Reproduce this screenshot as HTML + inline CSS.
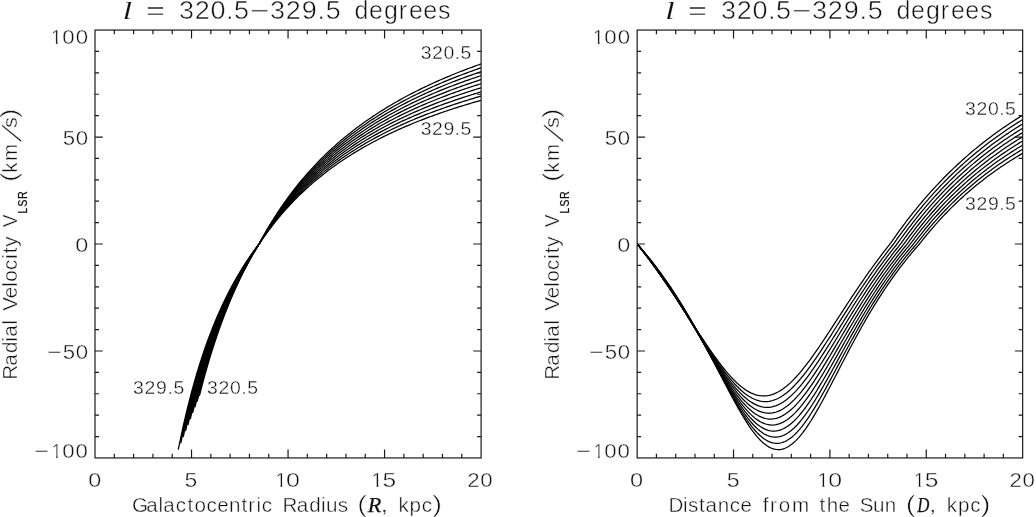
<!DOCTYPE html>
<html><head><meta charset="utf-8"><title>Radial velocity curves</title>
<style>
html,body{margin:0;padding:0;background:#fff;}
svg{display:block;}
text{font-family:"Liberation Sans","DejaVu Sans",sans-serif;fill:#111;stroke:#fff;stroke-width:0.42px;}
text.tt{stroke-width:0.5px;}
text.sm{stroke-width:0.36px;}
text.sub{stroke:#111;stroke-width:0.25px;}
text.sl{stroke-width:0.5px;}
text.par{stroke-width:0.6px;}
text.it{font-family:"Liberation Serif","DejaVu Serif",serif;font-style:italic;stroke:#111;stroke-width:0.25px;}
text.il{stroke:#fff;stroke-width:0.08px;}
.c{fill:none;stroke:#000;stroke-width:1.25;stroke-linejoin:round;}
</style></head><body>
<svg width="1036" height="517" viewBox="0 0 1036 517">
<rect width="1036" height="517" fill="#fff"/>
<clipPath id="k1" clipPathUnits="objectBoundingBox"><polygon points="0.15,0 0.62,0 0.62,1 0.4535,1 0.4535,0.69 0.15,0.69"/></clipPath>
<clipPath id="c0"><rect x="95.0" y="30.05" width="386.1" height="427.9"/></clipPath>
<clipPath id="c1"><rect x="637.15" y="30.05" width="385.5" height="427.9"/></clipPath>
<g class="c" clip-path="url(#c0)">
<path d="M199.38 395.94 L200.37 391.99 L201.37 388.12 L202.36 384.33 L203.36 380.60 L204.35 376.94 L205.35 373.34 L206.34 369.81 L207.34 366.35 L208.33 362.94 L209.33 359.59 L210.32 356.30 L211.32 353.07 L212.31 349.89 L213.31 346.77 L214.30 343.69 L215.30 340.67 L216.30 337.70 L217.29 334.78 L218.29 331.90 L219.28 329.07 L220.28 326.28 L221.27 323.54 L222.27 320.84 L223.26 318.19 L224.26 315.57 L225.25 312.99 L226.25 310.46 L227.24 307.96 L228.24 305.50 L229.23 303.07 L230.23 300.68 L231.22 298.33 L232.22 296.01 L233.22 293.72 L234.21 291.47 L235.21 289.24 L236.20 287.05 L237.20 284.89 L238.19 282.76 L239.19 280.66 L240.18 278.59 L241.18 276.55 L242.17 274.53 L243.17 272.54 L244.16 270.58 L245.16 268.64 L246.15 266.73 L247.15 264.85 L248.14 262.98 L249.14 261.15 L250.13 259.33 L251.13 257.54 L252.13 255.78 L253.12 254.03 L254.12 252.31 L255.11 250.60 L256.11 248.92 L257.10 247.26 L258.10 245.62 L259.09 244.00 L260.96 240.53 L262.82 237.13 L264.69 233.81 L266.55 230.56 L268.42 227.38 L270.29 224.26 L272.15 221.21 L274.02 218.22 L275.88 215.29 L277.75 212.42 L279.61 209.61 L281.48 206.85 L283.35 204.15 L285.21 201.49 L287.08 198.89 L288.94 196.34 L290.81 193.83 L292.67 191.38 L294.54 188.96 L296.40 186.59 L298.27 184.26 L300.14 181.98 L302.00 179.73 L303.87 177.53 L305.73 175.36 L307.60 173.23 L309.46 171.14 L311.33 169.08 L313.20 167.05 L315.06 165.06 L316.93 163.10 L318.79 161.18 L320.66 159.28 L322.52 157.42 L324.39 155.59 L326.25 153.78 L328.12 152.00 L329.99 150.26 L331.85 148.53 L333.72 146.84 L335.58 145.17 L337.45 143.52 L339.31 141.90 L341.18 140.31 L343.04 138.73 L344.91 137.18 L346.78 135.66 L348.64 134.15 L350.51 132.67 L352.37 131.21 L354.24 129.77 L356.10 128.34 L357.97 126.94 L359.84 125.56 L361.70 124.20 L363.57 122.85 L365.43 121.52 L367.30 120.22 L369.16 118.92 L371.03 117.65 L372.89 116.39 L374.76 115.15 L376.63 113.93 L378.49 112.72 L380.36 111.52 L382.22 110.35 L384.09 109.18 L385.95 108.03 L387.82 106.90 L389.69 105.78 L391.55 104.67 L393.42 103.58 L395.28 102.50 L397.15 101.43 L399.01 100.38 L400.88 99.34 L402.74 98.31 L404.61 97.29 L406.48 96.29 L408.34 95.30 L410.21 94.31 L412.07 93.34 L413.94 92.39 L415.80 91.44 L417.67 90.50 L419.53 89.57 L421.40 88.66 L423.27 87.75 L425.13 86.85 L427.00 85.97 L428.86 85.09 L430.73 84.23 L432.59 83.37 L434.46 82.52 L436.33 81.68 L438.19 80.85 L440.06 80.03 L441.92 79.22 L443.79 78.41 L445.65 77.62 L447.52 76.83 L449.38 76.05 L451.25 75.28 L453.12 74.51 L454.98 73.76 L456.85 73.01 L458.71 72.27 L460.58 71.54 L462.44 70.81 L464.31 70.09 L466.18 69.38 L468.04 68.67 L469.91 67.98 L471.77 67.29 L473.64 66.60 L475.50 65.92 L477.37 65.25 L479.23 64.59 L481.10 63.93"/>
<path d="M197.15 401.60 L198.18 397.42 L199.21 393.33 L200.25 389.31 L201.28 385.38 L202.31 381.52 L203.34 377.73 L204.38 374.02 L205.41 370.37 L206.44 366.79 L207.47 363.28 L208.51 359.83 L209.54 356.44 L210.57 353.12 L211.60 349.85 L212.64 346.64 L213.67 343.49 L214.70 340.39 L215.73 337.34 L216.77 334.35 L217.80 331.40 L218.83 328.51 L219.86 325.66 L220.89 322.86 L221.93 320.10 L222.96 317.39 L223.99 314.72 L225.02 312.10 L226.06 309.51 L227.09 306.97 L228.12 304.47 L229.15 302.00 L230.19 299.57 L231.22 297.18 L232.25 294.83 L233.28 292.51 L234.32 290.22 L235.35 287.97 L236.38 285.75 L237.41 283.57 L238.44 281.41 L239.48 279.29 L240.51 277.19 L241.54 275.13 L242.57 273.09 L243.61 271.08 L244.64 269.10 L245.67 267.15 L246.70 265.22 L247.74 263.32 L248.77 261.45 L249.80 259.60 L250.83 257.77 L251.87 255.97 L252.90 254.20 L253.93 252.44 L254.96 250.71 L256.00 249.00 L257.03 247.31 L258.06 245.65 L259.09 244.00 L260.96 240.60 L262.82 237.28 L264.69 234.03 L266.55 230.85 L268.42 227.73 L270.29 224.68 L272.15 221.70 L274.02 218.77 L275.88 215.90 L277.75 213.10 L279.61 210.34 L281.48 207.64 L283.35 205.00 L285.21 202.40 L287.08 199.85 L288.94 197.36 L290.81 194.90 L292.67 192.50 L294.54 190.14 L296.40 187.82 L298.27 185.54 L300.14 183.30 L302.00 181.10 L303.87 178.94 L305.73 176.82 L307.60 174.74 L309.46 172.69 L311.33 170.67 L313.20 168.69 L315.06 166.75 L316.93 164.83 L318.79 162.94 L320.66 161.09 L322.52 159.27 L324.39 157.47 L326.25 155.71 L328.12 153.97 L329.99 152.25 L331.85 150.57 L333.72 148.91 L335.58 147.27 L337.45 145.67 L339.31 144.08 L341.18 142.52 L343.04 140.98 L344.91 139.46 L346.78 137.97 L348.64 136.49 L350.51 135.04 L352.37 133.61 L354.24 132.20 L356.10 130.81 L357.97 129.44 L359.84 128.09 L361.70 126.75 L363.57 125.43 L365.43 124.14 L367.30 122.86 L369.16 121.59 L371.03 120.34 L372.89 119.11 L374.76 117.90 L376.63 116.70 L378.49 115.52 L380.36 114.35 L382.22 113.20 L384.09 112.06 L385.95 110.93 L387.82 109.82 L389.69 108.73 L391.55 107.64 L393.42 106.57 L395.28 105.52 L397.15 104.47 L399.01 103.44 L400.88 102.42 L402.74 101.42 L404.61 100.42 L406.48 99.44 L408.34 98.47 L410.21 97.51 L412.07 96.56 L413.94 95.62 L415.80 94.69 L417.67 93.77 L419.53 92.87 L421.40 91.97 L423.27 91.08 L425.13 90.21 L427.00 89.34 L428.86 88.48 L430.73 87.63 L432.59 86.79 L434.46 85.96 L436.33 85.14 L438.19 84.33 L440.06 83.53 L441.92 82.73 L443.79 81.94 L445.65 81.16 L447.52 80.39 L449.38 79.63 L451.25 78.88 L453.12 78.13 L454.98 77.39 L456.85 76.66 L458.71 75.93 L460.58 75.21 L462.44 74.50 L464.31 73.80 L466.18 73.10 L468.04 72.41 L469.91 71.73 L471.77 71.05 L473.64 70.38 L475.50 69.72 L477.37 69.06 L479.23 68.41 L481.10 67.77"/>
<path d="M194.89 407.34 L195.96 402.92 L197.03 398.59 L198.10 394.34 L199.17 390.19 L200.24 386.12 L201.31 382.13 L202.38 378.22 L203.45 374.39 L204.52 370.63 L205.59 366.95 L206.66 363.34 L207.73 359.79 L208.80 356.31 L209.87 352.90 L210.94 349.55 L212.01 346.26 L213.08 343.03 L214.15 339.86 L215.22 336.74 L216.29 333.68 L217.36 330.68 L218.43 327.72 L219.50 324.82 L220.57 321.96 L221.64 319.16 L222.71 316.40 L223.78 313.69 L224.85 311.02 L225.92 308.39 L226.99 305.81 L228.06 303.27 L229.13 300.77 L230.20 298.31 L231.27 295.89 L232.34 293.50 L233.41 291.15 L234.48 288.84 L235.55 286.57 L236.62 284.32 L237.69 282.12 L238.76 279.94 L239.83 277.80 L240.90 275.69 L241.97 273.61 L243.04 271.55 L244.11 269.53 L245.18 267.54 L246.25 265.58 L247.32 263.64 L248.39 261.73 L249.46 259.85 L250.53 257.99 L251.60 256.16 L252.67 254.35 L253.74 252.57 L254.81 250.81 L255.88 249.07 L256.95 247.36 L258.02 245.67 L259.09 244.00 L260.96 240.68 L262.82 237.43 L264.69 234.25 L266.55 231.14 L268.42 228.09 L270.29 225.11 L272.15 222.19 L274.02 219.33 L275.88 216.53 L277.75 213.78 L279.61 211.09 L281.48 208.45 L283.35 205.86 L285.21 203.32 L287.08 200.83 L288.94 198.39 L290.81 195.99 L292.67 193.64 L294.54 191.33 L296.40 189.06 L298.27 186.83 L300.14 184.64 L302.00 182.49 L303.87 180.38 L305.73 178.31 L307.60 176.27 L309.46 174.26 L311.33 172.29 L313.20 170.36 L315.06 168.45 L316.93 166.58 L318.79 164.74 L320.66 162.92 L322.52 161.14 L324.39 159.38 L326.25 157.66 L328.12 155.96 L329.99 154.28 L331.85 152.63 L333.72 151.01 L335.58 149.41 L337.45 147.84 L339.31 146.29 L341.18 144.76 L343.04 143.25 L344.91 141.77 L346.78 140.31 L348.64 138.87 L350.51 137.45 L352.37 136.05 L354.24 134.67 L356.10 133.31 L357.97 131.97 L359.84 130.65 L361.70 129.34 L363.57 128.05 L365.43 126.78 L367.30 125.53 L369.16 124.30 L371.03 123.08 L372.89 121.87 L374.76 120.69 L376.63 119.51 L378.49 118.36 L380.36 117.21 L382.22 116.09 L384.09 114.97 L385.95 113.87 L387.82 112.79 L389.69 111.72 L391.55 110.66 L393.42 109.61 L395.28 108.58 L397.15 107.56 L399.01 106.55 L400.88 105.55 L402.74 104.57 L404.61 103.59 L406.48 102.63 L408.34 101.68 L410.21 100.74 L412.07 99.81 L413.94 98.90 L415.80 97.99 L417.67 97.09 L419.53 96.21 L421.40 95.33 L423.27 94.46 L425.13 93.60 L427.00 92.76 L428.86 91.92 L430.73 91.09 L432.59 90.27 L434.46 89.45 L436.33 88.65 L438.19 87.86 L440.06 87.07 L441.92 86.29 L443.79 85.52 L445.65 84.76 L447.52 84.01 L449.38 83.26 L451.25 82.52 L453.12 81.79 L454.98 81.07 L456.85 80.35 L458.71 79.64 L460.58 78.94 L462.44 78.25 L464.31 77.56 L466.18 76.88 L468.04 76.20 L469.91 75.54 L471.77 74.87 L473.64 74.22 L475.50 73.57 L477.37 72.93 L479.23 72.29 L481.10 71.66"/>
<path d="M192.61 413.16 L193.71 408.48 L194.82 403.89 L195.93 399.41 L197.04 395.03 L198.15 390.74 L199.25 386.54 L200.36 382.43 L201.47 378.40 L202.58 374.46 L203.69 370.60 L204.80 366.81 L205.90 363.10 L207.01 359.47 L208.12 355.90 L209.23 352.41 L210.34 348.98 L211.44 345.62 L212.55 342.32 L213.66 339.08 L214.77 335.91 L215.88 332.79 L216.98 329.73 L218.09 326.72 L219.20 323.76 L220.31 320.86 L221.42 318.01 L222.52 315.21 L223.63 312.46 L224.74 309.75 L225.85 307.09 L226.96 304.48 L228.07 301.91 L229.17 299.38 L230.28 296.89 L231.39 294.44 L232.50 292.03 L233.61 289.66 L234.71 287.33 L235.82 285.04 L236.93 282.78 L238.04 280.55 L239.15 278.36 L240.25 276.21 L241.36 274.08 L242.47 271.99 L243.58 269.93 L244.69 267.90 L245.80 265.90 L246.90 263.93 L248.01 261.98 L249.12 260.07 L250.23 258.18 L251.34 256.32 L252.44 254.49 L253.55 252.68 L254.66 250.89 L255.77 249.14 L256.88 247.40 L257.98 245.69 L259.09 244.00 L260.96 240.75 L262.82 237.58 L264.69 234.47 L266.55 231.43 L268.42 228.46 L270.29 225.54 L272.15 222.69 L274.02 219.89 L275.88 217.15 L277.75 214.47 L279.61 211.84 L281.48 209.26 L283.35 206.73 L285.21 204.25 L287.08 201.82 L288.94 199.43 L290.81 197.09 L292.67 194.79 L294.54 192.53 L296.40 190.32 L298.27 188.14 L300.14 186.00 L302.00 183.90 L303.87 181.84 L305.73 179.81 L307.60 177.82 L309.46 175.86 L311.33 173.94 L313.20 172.04 L315.06 170.18 L316.93 168.35 L318.79 166.55 L320.66 164.78 L322.52 163.04 L324.39 161.32 L326.25 159.63 L328.12 157.97 L329.99 156.34 L331.85 154.72 L333.72 153.14 L335.58 151.58 L337.45 150.04 L339.31 148.52 L341.18 147.03 L343.04 145.56 L344.91 144.11 L346.78 142.68 L348.64 141.28 L350.51 139.89 L352.37 138.52 L354.24 137.17 L356.10 135.84 L357.97 134.53 L359.84 133.24 L361.70 131.97 L363.57 130.71 L365.43 129.47 L367.30 128.24 L369.16 127.04 L371.03 125.85 L372.89 124.67 L374.76 123.51 L376.63 122.36 L378.49 121.23 L380.36 120.12 L382.22 119.02 L384.09 117.93 L385.95 116.85 L387.82 115.79 L389.69 114.74 L391.55 113.71 L393.42 112.69 L395.28 111.68 L397.15 110.68 L399.01 109.69 L400.88 108.72 L402.74 107.76 L404.61 106.81 L406.48 105.87 L408.34 104.94 L410.21 104.02 L412.07 103.12 L413.94 102.22 L415.80 101.33 L417.67 100.46 L419.53 99.59 L421.40 98.73 L423.27 97.89 L425.13 97.05 L427.00 96.22 L428.86 95.40 L430.73 94.59 L432.59 93.79 L434.46 92.99 L436.33 92.21 L438.19 91.43 L440.06 90.66 L441.92 89.90 L443.79 89.15 L445.65 88.41 L447.52 87.67 L449.38 86.94 L451.25 86.22 L453.12 85.51 L454.98 84.80 L456.85 84.10 L458.71 83.41 L460.58 82.72 L462.44 82.04 L464.31 81.37 L466.18 80.71 L468.04 80.05 L469.91 79.39 L471.77 78.75 L473.64 78.11 L475.50 77.47 L477.37 76.85 L479.23 76.22 L481.10 75.61"/>
<path d="M190.29 419.06 L191.44 414.09 L192.58 409.24 L193.73 404.51 L194.88 399.88 L196.02 395.36 L197.17 390.94 L198.32 386.62 L199.46 382.39 L200.61 378.26 L201.76 374.21 L202.90 370.25 L204.05 366.37 L205.20 362.58 L206.34 358.86 L207.49 355.22 L208.64 351.65 L209.78 348.15 L210.93 344.72 L212.08 341.36 L213.22 338.07 L214.37 334.83 L215.52 331.66 L216.66 328.55 L217.81 325.50 L218.96 322.50 L220.10 319.56 L221.25 316.67 L222.40 313.83 L223.54 311.05 L224.69 308.31 L225.84 305.62 L226.98 302.98 L228.13 300.38 L229.28 297.83 L230.42 295.32 L231.57 292.86 L232.72 290.43 L233.86 288.05 L235.01 285.70 L236.16 283.39 L237.30 281.12 L238.45 278.89 L239.60 276.69 L240.74 274.52 L241.89 272.39 L243.04 270.29 L244.19 268.23 L245.33 266.19 L246.48 264.19 L247.63 262.22 L248.77 260.27 L249.92 258.36 L251.07 256.47 L252.21 254.61 L253.36 252.78 L254.51 250.97 L255.65 249.19 L256.80 247.44 L257.95 245.71 L259.09 244.00 L260.96 240.83 L262.82 237.73 L264.69 234.70 L266.55 231.73 L268.42 228.83 L270.29 225.98 L272.15 223.19 L274.02 220.47 L275.88 217.79 L277.75 215.17 L279.61 212.60 L281.48 210.09 L283.35 207.62 L285.21 205.19 L287.08 202.82 L288.94 200.49 L290.81 198.20 L292.67 195.96 L294.54 193.75 L296.40 191.59 L298.27 189.46 L300.14 187.38 L302.00 185.33 L303.87 183.31 L305.73 181.34 L307.60 179.39 L309.46 177.48 L311.33 175.60 L313.20 173.75 L315.06 171.93 L316.93 170.15 L318.79 168.39 L320.66 166.66 L322.52 164.96 L324.39 163.28 L326.25 161.64 L328.12 160.01 L329.99 158.42 L331.85 156.84 L333.72 155.30 L335.58 153.77 L337.45 152.27 L339.31 150.79 L341.18 149.33 L343.04 147.90 L344.91 146.48 L346.78 145.09 L348.64 143.72 L350.51 142.36 L352.37 141.03 L354.24 139.71 L356.10 138.41 L357.97 137.13 L359.84 135.87 L361.70 134.63 L363.57 133.40 L365.43 132.19 L367.30 130.99 L369.16 129.81 L371.03 128.65 L372.89 127.50 L374.76 126.37 L376.63 125.25 L378.49 124.15 L380.36 123.06 L382.22 121.98 L384.09 120.92 L385.95 119.87 L387.82 118.84 L389.69 117.81 L391.55 116.80 L393.42 115.80 L395.28 114.82 L397.15 113.85 L399.01 112.88 L400.88 111.93 L402.74 110.99 L404.61 110.07 L406.48 109.15 L408.34 108.24 L410.21 107.35 L412.07 106.46 L413.94 105.58 L415.80 104.72 L417.67 103.86 L419.53 103.02 L421.40 102.18 L423.27 101.35 L425.13 100.54 L427.00 99.73 L428.86 98.93 L430.73 98.13 L432.59 97.35 L434.46 96.58 L436.33 95.81 L438.19 95.05 L440.06 94.30 L441.92 93.56 L443.79 92.83 L445.65 92.10 L447.52 91.38 L449.38 90.67 L451.25 89.97 L453.12 89.27 L454.98 88.58 L456.85 87.90 L458.71 87.22 L460.58 86.55 L462.44 85.89 L464.31 85.23 L466.18 84.58 L468.04 83.94 L469.91 83.30 L471.77 82.67 L473.64 82.05 L475.50 81.43 L477.37 80.81 L479.23 80.21 L481.10 79.61"/>
<path d="M187.94 425.03 L189.13 419.77 L190.31 414.64 L191.50 409.64 L192.69 404.75 L193.87 399.99 L195.06 395.34 L196.24 390.80 L197.43 386.36 L198.62 382.02 L199.80 377.79 L200.99 373.64 L202.17 369.59 L203.36 365.63 L204.54 361.75 L205.73 357.96 L206.92 354.25 L208.10 350.61 L209.29 347.05 L210.47 343.57 L211.66 340.15 L212.85 336.80 L214.03 333.52 L215.22 330.31 L216.40 327.15 L217.59 324.06 L218.77 321.03 L219.96 318.05 L221.15 315.13 L222.33 312.27 L223.52 309.46 L224.70 306.70 L225.89 303.99 L227.08 301.33 L228.26 298.71 L229.45 296.14 L230.63 293.62 L231.82 291.14 L233.00 288.70 L234.19 286.31 L235.38 283.95 L236.56 281.64 L237.75 279.36 L238.93 277.12 L240.12 274.92 L241.31 272.75 L242.49 270.62 L243.68 268.52 L244.86 266.45 L246.05 264.42 L247.23 262.42 L248.42 260.45 L249.61 258.51 L250.79 256.60 L251.98 254.72 L253.16 252.86 L254.35 251.04 L255.54 249.24 L256.72 247.47 L257.91 245.72 L259.09 244.00 L260.96 240.91 L262.82 237.89 L264.69 234.93 L266.55 232.03 L268.42 229.20 L270.29 226.42 L272.15 223.71 L274.02 221.05 L275.88 218.44 L277.75 215.88 L279.61 213.38 L281.48 210.92 L283.35 208.51 L285.21 206.15 L287.08 203.83 L288.94 201.56 L290.81 199.33 L292.67 197.14 L294.54 194.99 L296.40 192.88 L298.27 190.81 L300.14 188.77 L302.00 186.77 L303.87 184.81 L305.73 182.88 L307.60 180.98 L309.46 179.12 L311.33 177.28 L313.20 175.48 L315.06 173.71 L316.93 171.97 L318.79 170.25 L320.66 168.56 L322.52 166.90 L324.39 165.27 L326.25 163.66 L328.12 162.08 L329.99 160.52 L331.85 158.99 L333.72 157.48 L335.58 155.99 L337.45 154.53 L339.31 153.09 L341.18 151.66 L343.04 150.26 L344.91 148.88 L346.78 147.52 L348.64 146.18 L350.51 144.86 L352.37 143.56 L354.24 142.28 L356.10 141.01 L357.97 139.76 L359.84 138.53 L361.70 137.32 L363.57 136.12 L365.43 134.94 L367.30 133.77 L369.16 132.62 L371.03 131.49 L372.89 130.37 L374.76 129.27 L376.63 128.17 L378.49 127.10 L380.36 126.04 L382.22 124.99 L384.09 123.95 L385.95 122.93 L387.82 121.92 L389.69 120.92 L391.55 119.93 L393.42 118.96 L395.28 118.00 L397.15 117.05 L399.01 116.11 L400.88 115.18 L402.74 114.27 L404.61 113.36 L406.48 112.47 L408.34 111.58 L410.21 110.71 L412.07 109.85 L413.94 108.99 L415.80 108.15 L417.67 107.31 L419.53 106.49 L421.40 105.67 L423.27 104.87 L425.13 104.07 L427.00 103.28 L428.86 102.50 L430.73 101.73 L432.59 100.96 L434.46 100.21 L436.33 99.46 L438.19 98.72 L440.06 97.99 L441.92 97.27 L443.79 96.55 L445.65 95.84 L447.52 95.14 L449.38 94.45 L451.25 93.76 L453.12 93.08 L454.98 92.41 L456.85 91.74 L458.71 91.08 L460.58 90.43 L462.44 89.78 L464.31 89.14 L466.18 88.51 L468.04 87.88 L469.91 87.26 L471.77 86.64 L473.64 86.03 L475.50 85.43 L477.37 84.83 L479.23 84.24 L481.10 83.65"/>
<path d="M185.57 431.07 L186.79 425.49 L188.02 420.07 L189.24 414.78 L190.47 409.63 L191.70 404.61 L192.92 399.72 L194.15 394.95 L195.37 390.29 L196.60 385.75 L197.82 381.31 L199.05 376.98 L200.27 372.75 L201.50 368.62 L202.72 364.58 L203.95 360.63 L205.18 356.77 L206.40 352.99 L207.63 349.30 L208.85 345.69 L210.08 342.15 L211.30 338.69 L212.53 335.30 L213.75 331.98 L214.98 328.73 L216.20 325.54 L217.43 322.42 L218.65 319.36 L219.88 316.36 L221.11 313.41 L222.33 310.53 L223.56 307.70 L224.78 304.92 L226.01 302.20 L227.23 299.52 L228.46 296.90 L229.68 294.32 L230.91 291.79 L232.13 289.30 L233.36 286.86 L234.58 284.46 L235.81 282.10 L237.04 279.78 L238.26 277.51 L239.49 275.27 L240.71 273.07 L241.94 270.90 L243.16 268.78 L244.39 266.68 L245.61 264.62 L246.84 262.60 L248.06 260.60 L249.29 258.64 L250.51 256.71 L251.74 254.81 L252.97 252.94 L254.19 251.10 L255.42 249.28 L256.64 247.49 L257.87 245.73 L259.09 244.00 L260.96 240.99 L262.82 238.04 L264.69 235.16 L266.55 232.34 L268.42 229.58 L270.29 226.87 L272.15 224.23 L274.02 221.63 L275.88 219.09 L277.75 216.60 L279.61 214.16 L281.48 211.77 L283.35 209.42 L285.21 207.12 L287.08 204.86 L288.94 202.64 L290.81 200.47 L292.67 198.34 L294.54 196.24 L296.40 194.19 L298.27 192.17 L300.14 190.18 L302.00 188.23 L303.87 186.32 L305.73 184.44 L307.60 182.59 L309.46 180.77 L311.33 178.99 L313.20 177.23 L315.06 175.50 L316.93 173.81 L318.79 172.13 L320.66 170.49 L322.52 168.87 L324.39 167.28 L326.25 165.72 L328.12 164.17 L329.99 162.66 L331.85 161.16 L333.72 159.69 L335.58 158.24 L337.45 156.81 L339.31 155.41 L341.18 154.02 L343.04 152.66 L344.91 151.31 L346.78 149.99 L348.64 148.68 L350.51 147.40 L352.37 146.13 L354.24 144.88 L356.10 143.64 L357.97 142.43 L359.84 141.23 L361.70 140.04 L363.57 138.88 L365.43 137.73 L367.30 136.59 L369.16 135.47 L371.03 134.36 L372.89 133.27 L374.76 132.20 L376.63 131.13 L378.49 130.08 L380.36 129.05 L382.22 128.03 L384.09 127.02 L385.95 126.02 L387.82 125.04 L389.69 124.06 L391.55 123.10 L393.42 122.15 L395.28 121.22 L397.15 120.29 L399.01 119.38 L400.88 118.47 L402.74 117.58 L404.61 116.70 L406.48 115.83 L408.34 114.97 L410.21 114.12 L412.07 113.27 L413.94 112.44 L415.80 111.62 L417.67 110.81 L419.53 110.00 L421.40 109.21 L423.27 108.42 L425.13 107.64 L427.00 106.87 L428.86 106.11 L430.73 105.36 L432.59 104.62 L434.46 103.88 L436.33 103.15 L438.19 102.43 L440.06 101.72 L441.92 101.01 L443.79 100.32 L445.65 99.63 L447.52 98.94 L449.38 98.27 L451.25 97.60 L453.12 96.93 L454.98 96.28 L456.85 95.63 L458.71 94.99 L460.58 94.35 L462.44 93.72 L464.31 93.10 L466.18 92.48 L468.04 91.87 L469.91 91.26 L471.77 90.66 L473.64 90.07 L475.50 89.48 L477.37 88.90 L479.23 88.32 L481.10 87.75"/>
<path d="M183.17 437.18 L184.43 431.27 L185.70 425.53 L186.96 419.94 L188.23 414.51 L189.49 409.22 L190.76 404.08 L192.02 399.06 L193.29 394.18 L194.56 389.42 L195.82 384.78 L197.09 380.25 L198.35 375.84 L199.62 371.53 L200.88 367.32 L202.15 363.22 L203.41 359.21 L204.68 355.29 L205.94 351.46 L207.21 347.72 L208.48 344.06 L209.74 340.48 L211.01 336.99 L212.27 333.56 L213.54 330.21 L214.80 326.93 L216.07 323.72 L217.33 320.57 L218.60 317.49 L219.86 314.48 L221.13 311.52 L222.40 308.62 L223.66 305.78 L224.93 302.99 L226.19 300.26 L227.46 297.58 L228.72 294.95 L229.99 292.37 L231.25 289.83 L232.52 287.35 L233.78 284.91 L235.05 282.51 L236.31 280.16 L237.58 277.85 L238.85 275.57 L240.11 273.34 L241.38 271.15 L242.64 268.99 L243.91 266.88 L245.17 264.79 L246.44 262.74 L247.70 260.73 L248.97 258.75 L250.23 256.80 L251.50 254.88 L252.77 253.00 L254.03 251.14 L255.30 249.31 L256.56 247.51 L257.83 245.74 L259.09 244.00 L260.96 241.07 L262.82 238.20 L264.69 235.39 L266.55 232.65 L268.42 229.96 L270.29 227.33 L272.15 224.75 L274.02 222.22 L275.88 219.75 L277.75 217.33 L279.61 214.95 L281.48 212.62 L283.35 210.34 L285.21 208.09 L287.08 205.90 L288.94 203.74 L290.81 201.62 L292.67 199.55 L294.54 197.51 L296.40 195.51 L298.27 193.54 L300.14 191.61 L302.00 189.71 L303.87 187.85 L305.73 186.02 L307.60 184.22 L309.46 182.45 L311.33 180.71 L313.20 179.00 L315.06 177.32 L316.93 175.67 L318.79 174.04 L320.66 172.44 L322.52 170.87 L324.39 169.32 L326.25 167.79 L328.12 166.29 L329.99 164.81 L331.85 163.36 L333.72 161.93 L335.58 160.52 L337.45 159.13 L339.31 157.76 L341.18 156.41 L343.04 155.08 L344.91 153.77 L346.78 152.48 L348.64 151.21 L350.51 149.96 L352.37 148.72 L354.24 147.50 L356.10 146.30 L357.97 145.12 L359.84 143.95 L361.70 142.80 L363.57 141.66 L365.43 140.54 L367.30 139.44 L369.16 138.35 L371.03 137.27 L372.89 136.21 L374.76 135.16 L376.63 134.13 L378.49 133.11 L380.36 132.10 L382.22 131.10 L384.09 130.12 L385.95 129.15 L387.82 128.19 L389.69 127.24 L391.55 126.31 L393.42 125.39 L395.28 124.47 L397.15 123.57 L399.01 122.68 L400.88 121.80 L402.74 120.93 L404.61 120.08 L406.48 119.23 L408.34 118.39 L410.21 117.56 L412.07 116.74 L413.94 115.93 L415.80 115.13 L417.67 114.34 L419.53 113.55 L421.40 112.78 L423.27 112.02 L425.13 111.26 L427.00 110.51 L428.86 109.77 L430.73 109.04 L432.59 108.31 L434.46 107.60 L436.33 106.89 L438.19 106.19 L440.06 105.49 L441.92 104.81 L443.79 104.13 L445.65 103.45 L447.52 102.79 L449.38 102.13 L451.25 101.48 L453.12 100.83 L454.98 100.20 L456.85 99.56 L458.71 98.94 L460.58 98.32 L462.44 97.71 L464.31 97.10 L466.18 96.50 L468.04 95.90 L469.91 95.31 L471.77 94.73 L473.64 94.15 L475.50 93.58 L477.37 93.01 L479.23 92.45 L481.10 91.89"/>
<path d="M180.74 443.36 L182.04 437.09 L183.35 431.02 L184.66 425.11 L185.96 419.38 L187.27 413.81 L188.57 408.40 L189.88 403.13 L191.19 398.01 L192.49 393.03 L193.80 388.17 L195.10 383.45 L196.41 378.84 L197.71 374.35 L199.02 369.98 L200.33 365.71 L201.63 361.55 L202.94 357.49 L204.24 353.52 L205.55 349.65 L206.86 345.87 L208.16 342.18 L209.47 338.57 L210.77 335.04 L212.08 331.59 L213.39 328.22 L214.69 324.92 L216.00 321.70 L217.30 318.54 L218.61 315.44 L219.92 312.42 L221.22 309.45 L222.53 306.55 L223.83 303.70 L225.14 300.91 L226.44 298.18 L227.75 295.50 L229.06 292.88 L230.36 290.30 L231.67 287.77 L232.97 285.29 L234.28 282.86 L235.59 280.47 L236.89 278.13 L238.20 275.83 L239.50 273.57 L240.81 271.35 L242.12 269.17 L243.42 267.03 L244.73 264.93 L246.03 262.86 L247.34 260.83 L248.65 258.83 L249.95 256.87 L251.26 254.94 L252.56 253.04 L253.87 251.17 L255.17 249.34 L256.48 247.53 L257.79 245.75 L259.09 244.00 L260.96 241.15 L262.82 238.36 L264.69 235.63 L266.55 232.96 L268.42 230.35 L270.29 227.79 L272.15 225.28 L274.02 222.82 L275.88 220.42 L277.75 218.06 L279.61 215.75 L281.48 213.48 L283.35 211.26 L285.21 209.08 L287.08 206.95 L288.94 204.85 L290.81 202.79 L292.67 200.77 L294.54 198.79 L296.40 196.84 L298.27 194.93 L300.14 193.05 L302.00 191.21 L303.87 189.40 L305.73 187.62 L307.60 185.87 L309.46 184.15 L311.33 182.46 L313.20 180.79 L315.06 179.16 L316.93 177.55 L318.79 175.97 L320.66 174.41 L322.52 172.88 L324.39 171.37 L326.25 169.89 L328.12 168.43 L329.99 166.99 L331.85 165.58 L333.72 164.19 L335.58 162.82 L337.45 161.46 L339.31 160.13 L341.18 158.82 L343.04 157.53 L344.91 156.26 L346.78 155.00 L348.64 153.77 L350.51 152.55 L352.37 151.35 L354.24 150.16 L356.10 149.00 L357.97 147.84 L359.84 146.71 L361.70 145.59 L363.57 144.48 L365.43 143.39 L367.30 142.32 L369.16 141.26 L371.03 140.21 L372.89 139.18 L374.76 138.16 L376.63 137.15 L378.49 136.16 L380.36 135.18 L382.22 134.21 L384.09 133.26 L385.95 132.31 L387.82 131.38 L389.69 130.46 L391.55 129.55 L393.42 128.65 L395.28 127.77 L397.15 126.89 L399.01 126.03 L400.88 125.17 L402.74 124.32 L404.61 123.49 L406.48 122.66 L408.34 121.85 L410.21 121.04 L412.07 120.25 L413.94 119.46 L415.80 118.68 L417.67 117.91 L419.53 117.15 L421.40 116.40 L423.27 115.65 L425.13 114.92 L427.00 114.19 L428.86 113.47 L430.73 112.76 L432.59 112.05 L434.46 111.35 L436.33 110.66 L438.19 109.98 L440.06 109.31 L441.92 108.64 L443.79 107.98 L445.65 107.33 L447.52 106.68 L449.38 106.04 L451.25 105.40 L453.12 104.78 L454.98 104.16 L456.85 103.54 L458.71 102.93 L460.58 102.33 L462.44 101.74 L464.31 101.14 L466.18 100.56 L468.04 99.98 L469.91 99.41 L471.77 98.84 L473.64 98.28 L475.50 97.72 L477.37 97.17 L479.23 96.62 L481.10 96.08"/>
<path d="M178.28 449.60 L179.63 442.96 L180.98 436.52 L182.32 430.29 L183.67 424.24 L185.02 418.37 L186.36 412.68 L187.71 407.15 L189.06 401.78 L190.40 396.56 L191.75 391.49 L193.10 386.55 L194.45 381.75 L195.79 377.08 L197.14 372.53 L198.49 368.10 L199.83 363.78 L201.18 359.58 L202.53 355.47 L203.87 351.47 L205.22 347.57 L206.57 343.76 L207.91 340.05 L209.26 336.42 L210.61 332.87 L211.95 329.41 L213.30 326.02 L214.65 322.71 L215.99 319.48 L217.34 316.31 L218.69 313.22 L220.03 310.19 L221.38 307.23 L222.73 304.33 L224.08 301.49 L225.42 298.70 L226.77 295.98 L228.12 293.31 L229.46 290.69 L230.81 288.13 L232.16 285.62 L233.50 283.15 L234.85 280.73 L236.20 278.36 L237.54 276.03 L238.89 273.75 L240.24 271.51 L241.58 269.31 L242.93 267.15 L244.28 265.03 L245.62 262.95 L246.97 260.90 L248.32 258.89 L249.66 256.92 L251.01 254.98 L252.36 253.07 L253.71 251.19 L255.05 249.35 L256.40 247.54 L257.75 245.75 L259.09 244.00 L260.96 241.23 L262.82 238.52 L264.69 235.87 L266.55 233.28 L268.42 230.74 L270.29 228.25 L272.15 225.82 L274.02 223.43 L275.88 221.09 L277.75 218.80 L279.61 216.56 L281.48 214.36 L283.35 212.20 L285.21 210.08 L287.08 208.01 L288.94 205.97 L290.81 203.97 L292.67 202.01 L294.54 200.08 L296.40 198.19 L298.27 196.34 L300.14 194.51 L302.00 192.72 L303.87 190.96 L305.73 189.23 L307.60 187.53 L309.46 185.86 L311.33 184.22 L313.20 182.60 L315.06 181.01 L316.93 179.45 L318.79 177.92 L320.66 176.40 L322.52 174.92 L324.39 173.45 L326.25 172.01 L328.12 170.60 L329.99 169.20 L331.85 167.83 L333.72 166.47 L335.58 165.14 L337.45 163.83 L339.31 162.53 L341.18 161.26 L343.04 160.01 L344.91 158.77 L346.78 157.55 L348.64 156.35 L350.51 155.17 L352.37 154.00 L354.24 152.85 L356.10 151.72 L357.97 150.60 L359.84 149.49 L361.70 148.41 L363.57 147.33 L365.43 146.27 L367.30 145.23 L369.16 144.20 L371.03 143.18 L372.89 142.18 L374.76 141.19 L376.63 140.21 L378.49 139.25 L380.36 138.30 L382.22 137.36 L384.09 136.43 L385.95 135.51 L387.82 134.61 L389.69 133.71 L391.55 132.83 L393.42 131.96 L395.28 131.09 L397.15 130.24 L399.01 129.40 L400.88 128.57 L402.74 127.75 L404.61 126.94 L406.48 126.14 L408.34 125.35 L410.21 124.56 L412.07 123.79 L413.94 123.02 L415.80 122.27 L417.67 121.52 L419.53 120.78 L421.40 120.05 L423.27 119.33 L425.13 118.61 L427.00 117.90 L428.86 117.20 L430.73 116.51 L432.59 115.83 L434.46 115.15 L436.33 114.48 L438.19 113.82 L440.06 113.16 L441.92 112.52 L443.79 111.87 L445.65 111.24 L447.52 110.61 L449.38 109.99 L451.25 109.37 L453.12 108.76 L454.98 108.16 L456.85 107.56 L458.71 106.97 L460.58 106.39 L462.44 105.81 L464.31 105.23 L466.18 104.67 L468.04 104.10 L469.91 103.55 L471.77 103.00 L473.64 102.45 L475.50 101.91 L477.37 101.37 L479.23 100.84 L481.10 100.32"/>
</g>
<g fill="#000" stroke="none" clip-path="url(#c0)">
<path d="M199.38 395.94 L200.87 390.05 L202.36 384.33 L203.85 378.76 L205.35 373.34 L206.84 368.07 L208.33 362.94 L209.83 357.94 L211.32 353.07 L212.81 348.32 L214.30 343.69 L215.80 339.18 L217.29 334.78 L218.78 330.48 L220.28 326.28 L221.77 322.19 L223.26 318.19 L224.76 314.28 L226.25 310.46 L227.74 306.72 L229.23 303.07 L230.73 299.50 L232.22 296.01 L233.71 292.59 L235.21 289.24 L236.70 285.97 L238.19 282.76 L239.68 279.62 L241.18 276.55 L242.67 273.53 L244.16 270.58 L245.66 267.68 L247.15 264.85 L248.64 262.06 L250.13 259.33 L251.63 256.66 L253.12 254.03 L254.61 251.45 L256.11 248.92 L257.60 246.44 L259.09 244.00 L260.82 240.78 L262.55 237.62 L264.28 234.53 L266.01 231.50 L267.74 228.53 L269.47 225.62 L271.20 222.76 L272.93 219.96 L274.66 217.21 L276.39 214.51 L278.12 211.86 L279.85 209.26 L281.58 206.71 L283.31 204.20 L285.04 201.74 L286.77 199.32 L288.50 196.95 L290.23 194.61 L291.96 192.32 L293.68 190.06 L295.41 187.84 L297.14 185.66 L298.87 183.52 L300.60 181.41 L300.60 182.75 L298.87 184.81 L297.14 186.91 L295.41 189.04 L293.68 191.21 L291.96 193.42 L290.23 195.66 L288.50 197.95 L286.77 200.27 L285.04 202.64 L283.31 205.05 L281.58 207.50 L279.85 210.00 L278.12 212.55 L276.39 215.14 L274.66 217.78 L272.93 220.47 L271.20 223.21 L269.47 226.01 L267.74 228.86 L266.01 231.77 L264.28 234.73 L262.55 237.76 L260.82 240.85 L259.09 244.00 L257.60 246.39 L256.11 248.82 L254.61 251.29 L253.12 253.82 L251.63 256.39 L250.13 259.01 L248.64 261.68 L247.15 264.40 L245.66 267.18 L244.16 270.01 L242.67 272.90 L241.18 275.85 L239.68 278.86 L238.19 281.94 L236.70 285.07 L235.21 288.28 L233.71 291.55 L232.22 294.90 L230.73 298.32 L229.23 301.81 L227.74 305.38 L226.25 309.04 L224.76 312.78 L223.26 316.60 L221.77 320.52 L220.28 324.53 L218.78 328.63 L217.29 332.84 L215.80 337.15 L214.30 341.57 L212.81 346.10 L211.32 350.74 L209.83 355.51 L208.33 360.40 L206.84 365.43 L205.35 370.59 L203.85 375.89 L202.36 381.33 L200.87 386.94 L199.38 392.70Z"/>
<path d="M197.15 401.60 L198.70 395.37 L200.25 389.31 L201.80 383.44 L203.34 377.73 L204.89 372.18 L206.44 366.79 L207.99 361.55 L209.54 356.44 L211.09 351.48 L212.64 346.64 L214.18 341.93 L215.73 337.34 L217.28 332.87 L218.83 328.51 L220.38 324.25 L221.93 320.10 L223.48 316.05 L225.02 312.10 L226.57 308.24 L228.12 304.47 L229.67 300.78 L231.22 297.18 L232.77 293.66 L234.32 290.22 L235.86 286.86 L237.41 283.57 L238.96 280.34 L240.51 277.19 L242.06 274.11 L243.61 271.08 L245.16 268.12 L246.70 265.22 L248.25 262.38 L249.80 259.60 L251.35 256.87 L252.90 254.20 L254.45 251.57 L256.00 249.00 L257.54 246.48 L259.09 244.00 L260.79 240.90 L262.49 237.87 L264.19 234.89 L265.89 231.98 L267.59 229.12 L269.28 226.31 L270.98 223.56 L272.68 220.86 L274.38 218.21 L276.08 215.61 L277.78 213.05 L279.48 210.54 L281.18 208.08 L282.87 205.66 L284.57 203.28 L286.27 200.95 L287.97 198.65 L289.67 196.39 L291.37 194.18 L293.07 192.00 L294.77 189.85 L296.46 187.74 L298.16 185.67 L299.86 183.63 L299.86 184.96 L298.16 186.96 L296.46 188.99 L294.77 191.05 L293.07 193.14 L291.37 195.28 L289.67 197.45 L287.97 199.65 L286.27 201.90 L284.57 204.18 L282.87 206.51 L281.18 208.87 L279.48 211.28 L277.78 213.74 L276.08 216.23 L274.38 218.78 L272.68 221.37 L270.98 224.01 L269.28 226.70 L267.59 229.45 L265.89 232.24 L264.19 235.10 L262.49 238.01 L260.79 240.97 L259.09 244.00 L257.54 246.42 L256.00 248.89 L254.45 251.41 L252.90 253.97 L251.35 256.59 L249.80 259.25 L248.25 261.98 L246.70 264.76 L245.16 267.59 L243.61 270.48 L242.06 273.44 L240.51 276.46 L238.96 279.54 L237.41 282.69 L235.86 285.91 L234.32 289.20 L232.77 292.57 L231.22 296.01 L229.67 299.53 L228.12 303.13 L226.57 306.82 L225.02 310.59 L223.48 314.46 L221.93 318.42 L220.38 322.48 L218.83 326.64 L217.28 330.90 L215.73 335.28 L214.18 339.77 L212.64 344.37 L211.09 349.10 L209.54 353.96 L207.99 358.95 L206.44 364.08 L204.89 369.35 L203.34 374.78 L201.80 380.36 L200.25 386.10 L198.70 392.02 L197.15 398.12Z"/>
<path d="M194.89 407.34 L196.50 400.74 L198.10 394.34 L199.71 388.14 L201.31 382.13 L202.92 376.30 L204.52 370.63 L206.13 365.13 L207.73 359.79 L209.34 354.60 L210.94 349.55 L212.55 344.64 L214.15 339.86 L215.76 335.21 L217.36 330.68 L218.97 326.26 L220.57 321.96 L222.18 317.77 L223.78 313.69 L225.39 309.70 L226.99 305.81 L228.60 302.01 L230.20 298.31 L231.81 294.69 L233.41 291.15 L235.02 287.70 L236.62 284.32 L238.23 281.02 L239.83 277.80 L241.44 274.64 L243.04 271.55 L244.65 268.53 L246.25 265.58 L247.86 262.68 L249.46 259.85 L251.07 257.07 L252.67 254.35 L254.28 251.68 L255.88 249.07 L257.49 246.51 L259.09 244.00 L260.74 241.05 L262.40 238.17 L264.05 235.33 L265.70 232.55 L267.35 229.82 L269.01 227.15 L270.66 224.52 L272.31 221.94 L273.96 219.41 L275.62 216.92 L277.27 214.48 L278.92 212.08 L280.57 209.72 L282.23 207.41 L283.88 205.13 L285.53 202.89 L287.18 200.69 L288.84 198.52 L290.49 196.40 L292.14 194.30 L293.79 192.24 L295.45 190.22 L297.10 188.23 L298.75 186.26 L298.75 187.59 L297.10 189.50 L295.45 191.45 L293.79 193.43 L292.14 195.44 L290.49 197.49 L288.84 199.57 L287.18 201.68 L285.53 203.83 L283.88 206.02 L282.23 208.24 L280.57 210.51 L278.92 212.81 L277.27 215.16 L275.62 217.54 L273.96 219.97 L272.31 222.45 L270.66 224.97 L269.01 227.53 L267.35 230.15 L265.70 232.81 L264.05 235.53 L262.40 238.30 L260.74 241.12 L259.09 244.00 L257.49 246.45 L255.88 248.95 L254.28 251.51 L252.67 254.11 L251.07 256.77 L249.46 259.48 L247.86 262.25 L246.25 265.08 L244.65 267.97 L243.04 270.92 L241.44 273.94 L239.83 277.02 L238.23 280.18 L236.62 283.40 L235.02 286.70 L233.41 290.07 L231.81 293.53 L230.20 297.06 L228.60 300.69 L226.99 304.39 L225.39 308.19 L223.78 312.09 L222.18 316.08 L220.57 320.18 L218.97 324.38 L217.36 328.69 L215.76 333.12 L214.15 337.66 L212.55 342.33 L210.94 347.13 L209.34 352.07 L207.73 357.14 L206.13 362.36 L204.52 367.73 L202.92 373.27 L201.31 378.97 L199.71 384.84 L198.10 390.90 L196.50 397.15 L194.89 403.60Z"/>
<path d="M192.61 413.16 L194.27 406.17 L195.93 399.41 L197.59 392.87 L199.25 386.54 L200.92 380.40 L202.58 374.46 L204.24 368.69 L205.90 363.10 L207.57 357.68 L209.23 352.41 L210.89 347.29 L212.55 342.32 L214.21 337.49 L215.88 332.79 L217.54 328.21 L219.20 323.76 L220.86 319.43 L222.52 315.21 L224.19 311.10 L225.85 307.09 L227.51 303.19 L229.17 299.38 L230.84 295.66 L232.50 292.03 L234.16 288.49 L235.82 285.04 L237.48 281.66 L239.15 278.36 L240.81 275.14 L242.47 271.99 L244.13 268.91 L245.80 265.90 L247.46 262.95 L249.12 260.07 L250.78 257.25 L252.44 254.49 L254.11 251.78 L255.77 249.14 L257.43 246.54 L259.09 244.00 L260.70 241.20 L262.30 238.46 L263.91 235.76 L265.52 233.12 L267.12 230.52 L268.73 227.97 L270.33 225.47 L271.94 223.01 L273.55 220.59 L275.15 218.22 L276.76 215.89 L278.37 213.60 L279.97 211.34 L281.58 209.13 L283.18 206.95 L284.79 204.81 L286.40 202.70 L288.00 200.63 L289.61 198.59 L291.21 196.58 L292.82 194.61 L294.43 192.67 L296.03 190.75 L297.64 188.87 L297.64 190.18 L296.03 192.02 L294.43 193.89 L292.82 195.78 L291.21 197.71 L289.61 199.67 L288.00 201.66 L286.40 203.68 L284.79 205.74 L283.18 207.83 L281.58 209.95 L279.97 212.12 L278.37 214.32 L276.76 216.55 L275.15 218.83 L273.55 221.15 L271.94 223.51 L270.33 225.91 L268.73 228.35 L267.12 230.84 L265.52 233.37 L263.91 235.96 L262.30 238.59 L260.70 241.27 L259.09 244.00 L257.43 246.48 L255.77 249.01 L254.11 251.60 L252.44 254.24 L250.78 256.93 L249.12 259.69 L247.46 262.50 L245.80 265.38 L244.13 268.32 L242.47 271.33 L240.81 274.40 L239.15 277.55 L237.48 280.77 L235.82 284.06 L234.16 287.44 L232.50 290.89 L230.84 294.43 L229.17 298.06 L227.51 301.78 L225.85 305.59 L224.19 309.51 L222.52 313.52 L220.86 317.64 L219.20 321.87 L217.54 326.22 L215.88 330.68 L214.21 335.27 L212.55 339.99 L210.89 344.84 L209.23 349.84 L207.57 354.98 L205.90 360.28 L204.24 365.73 L202.58 371.36 L200.92 377.16 L199.25 383.15 L197.59 389.34 L195.93 395.72 L194.27 402.32 L192.61 409.15Z"/>
<path d="M190.29 419.06 L192.01 411.65 L193.73 404.51 L195.45 397.61 L197.17 390.94 L198.89 384.49 L200.61 378.26 L202.33 372.22 L204.05 366.37 L205.77 360.71 L207.49 355.22 L209.21 349.89 L210.93 344.72 L212.65 339.70 L214.37 334.83 L216.09 330.10 L217.81 325.50 L219.53 321.02 L221.25 316.67 L222.97 312.43 L224.69 308.31 L226.41 304.30 L228.13 300.38 L229.85 296.57 L231.57 292.86 L233.29 289.23 L235.01 285.70 L236.73 282.25 L238.45 278.89 L240.17 275.60 L241.89 272.39 L243.61 269.26 L245.33 266.19 L247.05 263.20 L248.77 260.27 L250.49 257.41 L252.21 254.61 L253.93 251.87 L255.65 249.19 L257.37 246.57 L259.09 244.00 L260.67 241.32 L262.24 238.69 L263.82 236.11 L265.39 233.57 L266.97 231.08 L268.54 228.64 L270.12 226.23 L271.69 223.87 L273.27 221.55 L274.84 219.27 L276.42 217.03 L277.99 214.83 L279.57 212.66 L281.14 210.53 L282.72 208.44 L284.30 206.38 L285.87 204.35 L287.45 202.35 L289.02 200.39 L290.60 198.46 L292.17 196.56 L293.75 194.68 L295.32 192.84 L296.90 191.03 L296.90 192.33 L295.32 194.10 L293.75 195.90 L292.17 197.72 L290.60 199.58 L289.02 201.46 L287.45 203.38 L285.87 205.33 L284.30 207.30 L282.72 209.31 L281.14 211.36 L279.57 213.44 L277.99 215.55 L276.42 217.70 L274.84 219.88 L273.27 222.11 L271.69 224.37 L270.12 226.67 L268.54 229.01 L266.97 231.40 L265.39 233.83 L263.82 236.30 L262.24 238.82 L260.67 241.39 L259.09 244.00 L257.37 246.51 L255.65 249.06 L253.93 251.68 L252.21 254.35 L250.49 257.08 L248.77 259.87 L247.05 262.73 L245.33 265.65 L243.61 268.63 L241.89 271.69 L240.17 274.82 L238.45 278.03 L236.73 281.31 L235.01 284.67 L233.29 288.12 L231.57 291.65 L229.85 295.28 L228.13 299.00 L226.41 302.81 L224.69 306.73 L222.97 310.75 L221.25 314.88 L219.53 319.13 L217.81 323.49 L216.09 327.98 L214.37 332.60 L212.65 337.35 L210.93 342.24 L209.21 347.28 L207.49 352.48 L205.77 357.84 L204.05 363.36 L202.33 369.06 L200.61 374.95 L198.89 381.04 L197.17 387.32 L195.45 393.83 L193.73 400.56 L192.01 407.53 L190.29 414.75Z"/>
<path d="M187.94 425.03 L189.72 417.19 L191.50 409.64 L193.28 402.36 L195.06 395.34 L196.84 388.56 L198.62 382.02 L200.39 375.70 L202.17 369.59 L203.95 363.68 L205.73 357.96 L207.51 352.42 L209.29 347.05 L211.07 341.85 L212.85 336.80 L214.62 331.91 L216.40 327.15 L218.18 322.54 L219.96 318.05 L221.74 313.70 L223.52 309.46 L225.30 305.34 L227.08 301.33 L228.85 297.42 L230.63 293.62 L232.41 289.92 L234.19 286.31 L235.97 282.79 L237.75 279.36 L239.53 276.01 L241.31 272.75 L243.08 269.56 L244.86 266.45 L246.64 263.42 L248.42 260.45 L250.20 257.55 L251.98 254.72 L253.76 251.95 L255.54 249.24 L257.31 246.59 L259.09 244.00 L260.62 241.46 L262.15 238.97 L263.68 236.52 L265.21 234.12 L266.74 231.75 L268.27 229.43 L269.79 227.15 L271.32 224.91 L272.85 222.70 L274.38 220.53 L275.91 218.40 L277.44 216.30 L278.97 214.24 L280.50 212.21 L282.03 210.21 L283.55 208.25 L285.08 206.31 L286.61 204.41 L288.14 202.53 L289.67 200.69 L291.20 198.87 L292.73 197.08 L294.26 195.31 L295.78 193.58 L295.78 194.86 L294.26 196.56 L292.73 198.28 L291.20 200.02 L289.67 201.79 L288.14 203.59 L286.61 205.42 L285.08 207.27 L283.55 209.16 L282.03 211.07 L280.50 213.02 L278.97 215.00 L277.44 217.01 L275.91 219.05 L274.38 221.13 L272.85 223.25 L271.32 225.39 L269.79 227.58 L268.27 229.80 L266.74 232.07 L265.21 234.37 L263.68 236.71 L262.15 239.10 L260.62 241.53 L259.09 244.00 L257.31 246.53 L255.54 249.11 L253.76 251.75 L251.98 254.44 L250.20 257.21 L248.42 260.03 L246.64 262.92 L244.86 265.88 L243.08 268.91 L241.31 272.02 L239.53 275.20 L237.75 278.46 L235.97 281.80 L234.19 285.23 L232.41 288.74 L230.63 292.35 L228.85 296.06 L227.08 299.86 L225.30 303.77 L223.52 307.79 L221.74 311.92 L219.96 316.16 L218.18 320.53 L216.40 325.03 L214.62 329.66 L212.85 334.43 L211.07 339.35 L209.29 344.42 L207.51 349.65 L205.73 355.05 L203.95 360.62 L202.17 366.38 L200.39 372.34 L198.62 378.50 L196.84 384.87 L195.06 391.47 L193.28 398.31 L191.50 405.40 L189.72 412.76 L187.94 420.40Z"/>
<path d="M185.57 431.07 L187.41 422.76 L189.24 414.78 L191.08 407.11 L192.92 399.72 L194.76 392.60 L196.60 385.75 L198.44 379.13 L200.27 372.75 L202.11 366.59 L203.95 360.63 L205.79 354.87 L207.63 349.30 L209.46 343.91 L211.30 338.69 L213.14 333.63 L214.98 328.73 L216.82 323.97 L218.65 319.36 L220.49 314.88 L222.33 310.53 L224.17 306.30 L226.01 302.20 L227.84 298.20 L229.68 294.32 L231.52 290.54 L233.36 286.86 L235.20 283.28 L237.04 279.78 L238.87 276.38 L240.71 273.07 L242.55 269.84 L244.39 266.68 L246.23 263.61 L248.06 260.60 L249.90 257.67 L251.74 254.81 L253.58 252.01 L255.42 249.28 L257.25 246.61 L259.09 244.00 L260.58 241.60 L262.06 239.24 L263.54 236.93 L265.02 234.65 L266.51 232.41 L267.99 230.21 L269.47 228.05 L270.95 225.92 L272.44 223.83 L273.92 221.77 L275.40 219.74 L276.88 217.75 L278.37 215.79 L279.85 213.86 L281.33 211.96 L282.81 210.08 L284.30 208.24 L285.78 206.43 L287.26 204.64 L288.74 202.88 L290.23 201.14 L291.71 199.44 L293.19 197.75 L294.67 196.09 L294.67 197.36 L293.19 198.98 L291.71 200.62 L290.23 202.28 L288.74 203.97 L287.26 205.68 L285.78 207.42 L284.30 209.19 L282.81 210.98 L281.33 212.81 L279.85 214.66 L278.37 216.54 L276.88 218.45 L275.40 220.39 L273.92 222.36 L272.44 224.36 L270.95 226.40 L269.47 228.47 L267.99 230.58 L266.51 232.72 L265.02 234.90 L263.54 237.12 L262.06 239.37 L260.58 241.66 L259.09 244.00 L257.25 246.54 L255.42 249.14 L253.58 251.80 L251.74 254.52 L249.90 257.31 L248.06 260.16 L246.23 263.09 L244.39 266.08 L242.55 269.15 L240.71 272.30 L238.87 275.52 L237.04 278.84 L235.20 282.23 L233.36 285.72 L231.52 289.30 L229.68 292.98 L227.84 296.77 L226.01 300.65 L224.17 304.65 L222.33 308.76 L220.49 313.00 L218.65 317.36 L216.82 321.85 L214.98 326.48 L213.14 331.25 L211.30 336.18 L209.46 341.26 L207.63 346.51 L205.79 351.93 L203.95 357.54 L202.11 363.34 L200.27 369.34 L198.44 375.55 L196.60 381.99 L194.76 388.66 L192.92 395.59 L191.08 402.78 L189.24 410.25 L187.41 418.02 L185.57 426.11Z"/>
<path d="M183.17 437.18 L185.06 428.38 L186.96 419.94 L188.86 411.85 L190.76 404.08 L192.66 396.60 L194.56 389.42 L196.45 382.50 L198.35 375.84 L200.25 369.41 L202.15 363.22 L204.05 357.24 L205.94 351.46 L207.84 345.88 L209.74 340.48 L211.64 335.26 L213.54 330.21 L215.44 325.32 L217.33 320.57 L219.23 315.98 L221.13 311.52 L223.03 307.19 L224.93 302.99 L226.82 298.91 L228.72 294.95 L230.62 291.09 L232.52 287.35 L234.42 283.70 L236.31 280.16 L238.21 276.70 L240.11 273.34 L242.01 270.07 L243.91 266.88 L245.81 263.76 L247.70 260.73 L249.60 257.77 L251.50 254.88 L253.40 252.06 L255.30 249.31 L257.19 246.63 L259.09 244.00 L260.54 241.71 L262.00 239.47 L263.45 237.26 L264.90 235.08 L266.35 232.95 L267.80 230.84 L269.25 228.78 L270.71 226.74 L272.16 224.74 L273.61 222.77 L275.06 220.84 L276.51 218.93 L277.96 217.05 L279.42 215.20 L280.87 213.38 L282.32 211.59 L283.77 209.82 L285.22 208.08 L286.67 206.37 L288.13 204.68 L289.58 203.02 L291.03 201.38 L292.48 199.76 L293.93 198.17 L293.93 199.43 L292.48 200.98 L291.03 202.55 L289.58 204.15 L288.13 205.76 L286.67 207.40 L285.22 209.07 L283.77 210.76 L282.32 212.48 L280.87 214.22 L279.42 215.99 L277.96 217.79 L276.51 219.62 L275.06 221.47 L273.61 223.36 L272.16 225.27 L270.71 227.22 L269.25 229.20 L267.80 231.21 L266.35 233.25 L264.90 235.33 L263.45 237.44 L262.00 239.59 L260.54 241.78 L259.09 244.00 L257.19 246.55 L255.30 249.17 L253.40 251.84 L251.50 254.58 L249.60 257.39 L247.70 260.27 L245.81 263.22 L243.91 266.25 L242.01 269.35 L240.11 272.53 L238.21 275.80 L236.31 279.16 L234.42 282.61 L232.52 286.15 L230.62 289.80 L228.72 293.54 L226.82 297.40 L224.93 301.37 L223.03 305.45 L221.13 309.66 L219.23 313.99 L217.33 318.46 L215.44 323.08 L213.54 327.84 L211.64 332.75 L209.74 337.83 L207.84 343.07 L205.94 348.50 L204.05 354.12 L202.15 359.93 L200.25 365.96 L198.35 372.20 L196.45 378.68 L194.56 385.41 L192.66 392.40 L190.76 399.67 L188.86 407.23 L186.96 415.10 L185.06 423.30 L183.17 431.86Z"/>
<path d="M180.74 443.36 L182.70 434.03 L184.66 425.11 L186.61 416.58 L188.57 408.40 L190.53 400.55 L192.49 393.03 L194.45 385.79 L196.41 378.84 L198.37 372.15 L200.33 365.71 L202.29 359.51 L204.24 353.52 L206.20 347.75 L208.16 342.18 L210.12 336.80 L212.08 331.59 L214.04 326.56 L216.00 321.70 L217.96 316.98 L219.92 312.42 L221.87 307.99 L223.83 303.70 L225.79 299.54 L227.75 295.50 L229.71 291.58 L231.67 287.77 L233.63 284.07 L235.59 280.47 L237.55 276.98 L239.50 273.57 L241.46 270.26 L243.42 267.03 L245.38 263.89 L247.34 260.83 L249.30 257.85 L251.26 254.94 L253.22 252.10 L255.17 249.34 L257.13 246.64 L259.09 244.00 L260.51 241.82 L261.93 239.68 L263.35 237.58 L264.78 235.51 L266.20 233.47 L267.62 231.47 L269.04 229.49 L270.46 227.55 L271.88 225.64 L273.30 223.76 L274.72 221.91 L276.14 220.09 L277.56 218.29 L278.98 216.53 L280.40 214.79 L281.82 213.07 L283.25 211.38 L284.67 209.72 L286.09 208.08 L287.51 206.46 L288.93 204.87 L290.35 203.29 L291.77 201.75 L293.19 200.22 L293.19 201.47 L291.77 202.96 L290.35 204.46 L288.93 205.99 L287.51 207.53 L286.09 209.10 L284.67 210.70 L283.25 212.32 L281.82 213.96 L280.40 215.62 L278.98 217.31 L277.56 219.03 L276.14 220.77 L274.72 222.54 L273.30 224.34 L271.88 226.17 L270.46 228.02 L269.04 229.91 L267.62 231.82 L266.20 233.77 L264.78 235.75 L263.35 237.76 L261.93 239.81 L260.51 241.89 L259.09 244.00 L257.13 246.56 L255.17 249.18 L253.22 251.87 L251.26 254.63 L249.30 257.45 L247.34 260.35 L245.38 263.32 L243.42 266.37 L241.46 269.51 L239.50 272.72 L237.55 276.03 L235.59 279.43 L233.63 282.92 L231.67 286.52 L229.71 290.22 L227.75 294.03 L225.79 297.95 L223.83 301.99 L221.87 306.16 L219.92 310.46 L217.96 314.89 L216.00 319.47 L214.04 324.20 L212.08 329.09 L210.12 334.14 L208.16 339.37 L206.20 344.78 L204.24 350.39 L202.29 356.20 L200.33 362.23 L198.37 368.48 L196.41 374.98 L194.45 381.73 L192.49 388.76 L190.53 396.07 L188.57 403.69 L186.61 411.64 L184.66 419.93 L182.70 428.59 L180.74 437.65Z"/>
</g>
<g class="c" clip-path="url(#c1)">
<path d="M637.15 244.00 L638.91 246.21 L640.67 248.45 L642.43 250.71 L644.19 253.00 L645.95 255.31 L647.71 257.64 L649.47 260.00 L651.23 262.38 L652.99 264.78 L654.75 267.21 L656.51 269.65 L658.27 272.12 L660.03 274.61 L661.79 277.13 L663.55 279.66 L665.31 282.21 L667.07 284.78 L668.83 287.37 L670.60 289.97 L672.36 292.60 L674.12 295.23 L675.88 297.88 L677.64 300.55 L679.40 303.22 L681.16 305.91 L682.92 308.61 L684.68 311.31 L686.44 314.02 L688.20 316.73 L689.96 319.44 L691.72 322.16 L693.48 324.87 L695.24 327.58 L697.00 330.28 L698.76 332.97 L700.52 335.65 L702.28 338.31 L704.04 340.96 L705.80 343.59 L707.56 346.19 L709.32 348.77 L711.08 351.31 L712.84 353.82 L714.60 356.30 L716.36 358.74 L718.12 361.13 L719.88 363.47 L721.64 365.77 L723.40 368.00 L725.16 370.18 L726.92 372.30 L728.68 374.34 L730.44 376.32 L732.20 378.22 L733.97 380.05 L735.73 381.79 L737.49 383.44 L739.25 385.01 L741.01 386.48 L742.77 387.86 L744.53 389.14 L746.29 390.31 L748.05 391.38 L749.81 392.34 L751.57 393.20 L753.33 393.94 L755.09 394.56 L756.85 395.07 L758.61 395.47 L760.37 395.74 L762.13 395.90 L763.89 395.94 L765.65 395.86 L767.41 395.66 L769.17 395.34 L770.93 394.90 L772.69 394.35 L774.45 393.68 L776.21 392.90 L777.97 392.01 L779.73 391.01 L781.49 389.90 L783.25 388.69 L785.01 387.37 L786.77 385.96 L788.53 384.45 L790.29 382.85 L792.05 381.17 L793.81 379.40 L795.57 377.54 L797.33 375.61 L799.10 373.61 L800.86 371.54 L802.62 369.40 L804.38 367.20 L806.14 364.94 L807.90 362.63 L809.66 360.27 L811.42 357.86 L813.18 355.41 L814.94 352.92 L816.70 350.39 L818.46 347.84 L820.22 345.25 L821.98 342.64 L823.74 340.00 L825.50 337.35 L827.26 334.68 L829.02 332.00 L830.78 329.30 L832.54 326.60 L834.30 323.89 L836.06 321.18 L837.82 318.46 L839.58 315.75 L841.34 313.04 L843.10 310.33 L844.86 307.63 L846.62 304.94 L848.38 302.25 L850.14 299.58 L851.90 296.92 L853.66 294.28 L855.42 291.64 L857.18 289.03 L858.94 286.43 L860.70 283.85 L862.47 281.28 L864.23 278.74 L865.99 276.21 L867.75 273.71 L869.51 271.23 L871.27 268.76 L873.03 266.32 L874.79 263.91 L876.55 261.51 L878.31 259.14 L880.07 256.79 L881.83 254.47 L883.59 252.17 L885.35 249.89 L887.11 247.64 L888.87 245.41 L890.63 243.08 L892.39 240.54 L894.15 238.03 L895.91 235.55 L897.67 233.10 L899.43 230.67 L901.19 228.27 L902.95 225.90 L904.71 223.55 L906.47 221.23 L908.23 218.94 L909.99 216.67 L911.75 214.43 L913.51 212.21 L915.27 210.03 L917.03 207.86 L918.79 205.72 L920.55 203.61 L922.31 201.52 L924.07 199.46 L925.83 197.42 L927.60 195.41 L929.36 193.41 L931.12 191.45 L932.88 189.50 L934.64 187.58 L936.40 185.68 L938.16 183.81 L939.92 181.95 L941.68 180.12 L943.44 178.31 L945.20 176.52 L946.96 174.76 L948.72 173.01 L950.48 171.28 L952.24 169.58 L954.00 167.89 L955.76 166.23 L957.52 164.58 L959.28 162.95 L961.04 161.35 L962.80 159.76 L964.56 158.19 L966.32 156.63 L968.08 155.10 L969.84 153.58 L971.60 152.08 L973.36 150.60 L975.12 149.14 L976.88 147.69 L978.64 146.26 L980.40 144.84 L982.16 143.44 L983.92 142.06 L985.68 140.69 L987.44 139.34 L989.20 138.00 L990.97 136.68 L992.73 135.37 L994.49 134.08 L996.25 132.80 L998.01 131.53 L999.77 130.28 L1001.53 129.05 L1003.29 127.82 L1005.05 126.61 L1006.81 125.41 L1008.57 124.23 L1010.33 123.06 L1012.09 121.90 L1013.85 120.75 L1015.61 119.62 L1017.37 118.50 L1019.13 117.39 L1020.89 116.29 L1022.65 115.20"/>
<path d="M637.15 244.00 L638.91 246.20 L640.67 248.42 L642.43 250.67 L644.19 252.94 L645.95 255.24 L647.71 257.56 L649.47 259.91 L651.23 262.29 L652.99 264.68 L654.75 267.11 L656.51 269.55 L658.27 272.02 L660.03 274.52 L661.79 277.03 L663.55 279.57 L665.31 282.13 L667.07 284.71 L668.83 287.32 L670.60 289.94 L672.36 292.58 L674.12 295.24 L675.88 297.92 L677.64 300.61 L679.40 303.32 L681.16 306.04 L682.92 308.77 L684.68 311.52 L686.44 314.27 L688.20 317.03 L689.96 319.80 L691.72 322.57 L693.48 325.35 L695.24 328.12 L697.00 330.89 L698.76 333.65 L700.52 336.41 L702.28 339.16 L704.04 341.89 L705.80 344.61 L707.56 347.31 L709.32 349.99 L711.08 352.64 L712.84 355.27 L714.60 357.86 L716.36 360.41 L718.12 362.93 L719.88 365.40 L721.64 367.82 L723.40 370.19 L725.16 372.51 L726.92 374.77 L728.68 376.96 L730.44 379.08 L732.20 381.14 L733.97 383.11 L735.73 385.01 L737.49 386.82 L739.25 388.54 L741.01 390.17 L742.77 391.71 L744.53 393.15 L746.29 394.48 L748.05 395.71 L749.81 396.82 L751.57 397.83 L753.33 398.72 L755.09 399.50 L756.85 400.15 L758.61 400.69 L760.37 401.10 L762.13 401.39 L763.89 401.56 L765.65 401.60 L767.41 401.52 L769.17 401.31 L770.93 400.98 L772.69 400.53 L774.45 399.96 L776.21 399.26 L777.97 398.45 L779.73 397.52 L781.49 396.48 L783.25 395.33 L785.01 394.07 L786.77 392.70 L788.53 391.23 L790.29 389.67 L792.05 388.01 L793.81 386.25 L795.57 384.42 L797.33 382.49 L799.10 380.49 L800.86 378.42 L802.62 376.27 L804.38 374.06 L806.14 371.78 L807.90 369.45 L809.66 367.06 L811.42 364.62 L813.18 362.13 L814.94 359.60 L816.70 357.04 L818.46 354.44 L820.22 351.80 L821.98 349.14 L823.74 346.46 L825.50 343.75 L827.26 341.03 L829.02 338.29 L830.78 335.54 L832.54 332.78 L834.30 330.01 L836.06 327.24 L837.82 324.46 L839.58 321.69 L841.34 318.92 L843.10 316.16 L844.86 313.40 L846.62 310.65 L848.38 307.90 L850.14 305.17 L851.90 302.46 L853.66 299.75 L855.42 297.06 L857.18 294.39 L858.94 291.74 L860.70 289.10 L862.47 286.49 L864.23 283.89 L865.99 281.32 L867.75 278.76 L869.51 276.23 L871.27 273.72 L873.03 271.24 L874.79 268.77 L876.55 266.33 L878.31 263.92 L880.07 261.53 L881.83 259.16 L883.59 256.82 L885.35 254.51 L887.11 252.22 L888.87 249.95 L890.63 247.71 L892.39 245.50 L894.15 243.19 L895.91 240.68 L897.67 238.19 L899.43 235.73 L901.19 233.30 L902.95 230.89 L904.71 228.52 L906.47 226.17 L908.23 223.85 L909.99 221.55 L911.75 219.28 L913.51 217.04 L915.27 214.83 L917.03 212.64 L918.79 210.48 L920.55 208.35 L922.31 206.24 L924.07 204.16 L925.83 202.10 L927.60 200.07 L929.36 198.06 L931.12 196.07 L932.88 194.11 L934.64 192.17 L936.40 190.26 L938.16 188.37 L939.92 186.50 L941.68 184.66 L943.44 182.84 L945.20 181.04 L946.96 179.26 L948.72 177.50 L950.48 175.77 L952.24 174.05 L954.00 172.36 L955.76 170.68 L957.52 169.03 L959.28 167.39 L961.04 165.78 L962.80 164.18 L964.56 162.61 L966.32 161.05 L968.08 159.51 L969.84 157.99 L971.60 156.48 L973.36 154.99 L975.12 153.53 L976.88 152.07 L978.64 150.64 L980.40 149.22 L982.16 147.82 L983.92 146.43 L985.68 145.06 L987.44 143.71 L989.20 142.37 L990.97 141.04 L992.73 139.74 L994.49 138.44 L996.25 137.16 L998.01 135.90 L999.77 134.65 L1001.53 133.41 L1003.29 132.19 L1005.05 130.98 L1006.81 129.78 L1008.57 128.60 L1010.33 127.43 L1012.09 126.27 L1013.85 125.12 L1015.61 123.99 L1017.37 122.87 L1019.13 121.76 L1020.89 120.66 L1022.65 119.58"/>
<path d="M637.15 244.00 L638.91 246.18 L640.67 248.39 L642.43 250.62 L644.19 252.88 L645.95 255.16 L647.71 257.47 L649.47 259.81 L651.23 262.17 L652.99 264.56 L654.75 266.98 L656.51 269.42 L658.27 271.88 L660.03 274.38 L661.79 276.89 L663.55 279.43 L665.31 282.00 L667.07 284.59 L668.83 287.20 L670.60 289.84 L672.36 292.49 L674.12 295.17 L675.88 297.87 L677.64 300.58 L679.40 303.32 L681.16 306.07 L682.92 308.84 L684.68 311.62 L686.44 314.42 L688.20 317.22 L689.96 320.04 L691.72 322.86 L693.48 325.69 L695.24 328.53 L697.00 331.36 L698.76 334.20 L700.52 337.03 L702.28 339.86 L704.04 342.68 L705.80 345.48 L707.56 348.28 L709.32 351.05 L711.08 353.81 L712.84 356.54 L714.60 359.24 L716.36 361.91 L718.12 364.55 L719.88 367.15 L721.64 369.70 L723.40 372.21 L725.16 374.66 L726.92 377.06 L728.68 379.40 L730.44 381.68 L732.20 383.88 L733.97 386.01 L735.73 388.07 L737.49 390.04 L739.25 391.92 L741.01 393.72 L742.77 395.42 L744.53 397.02 L746.29 398.51 L748.05 399.90 L749.81 401.18 L751.57 402.35 L753.33 403.40 L755.09 404.33 L756.85 405.14 L758.61 405.83 L760.37 406.39 L762.13 406.82 L763.89 407.12 L765.65 407.30 L767.41 407.34 L769.17 407.26 L770.93 407.04 L772.69 406.70 L774.45 406.22 L776.21 405.62 L777.97 404.90 L779.73 404.05 L781.49 403.08 L783.25 401.99 L785.01 400.79 L786.77 399.47 L788.53 398.05 L790.29 396.52 L792.05 394.89 L793.81 393.16 L795.57 391.34 L797.33 389.42 L799.10 387.42 L800.86 385.35 L802.62 383.19 L804.38 380.96 L806.14 378.67 L807.90 376.31 L809.66 373.89 L811.42 371.42 L813.18 368.90 L814.94 366.33 L816.70 363.72 L818.46 361.07 L820.22 358.39 L821.98 355.68 L823.74 352.94 L825.50 350.17 L827.26 347.39 L829.02 344.60 L830.78 341.78 L832.54 338.96 L834.30 336.13 L836.06 333.30 L837.82 330.46 L839.58 327.63 L841.34 324.80 L843.10 321.97 L844.86 319.15 L846.62 316.33 L848.38 313.53 L850.14 310.74 L851.90 307.96 L853.66 305.20 L855.42 302.45 L857.18 299.72 L858.94 297.01 L860.70 294.32 L862.47 291.65 L864.23 289.00 L865.99 286.37 L867.75 283.76 L869.51 281.18 L871.27 278.62 L873.03 276.09 L874.79 273.58 L876.55 271.10 L878.31 268.64 L880.07 266.21 L881.83 263.80 L883.59 261.42 L885.35 259.06 L887.11 256.73 L888.87 254.43 L890.63 252.16 L892.39 249.91 L894.15 247.68 L895.91 245.49 L897.67 243.20 L899.43 240.71 L901.19 238.24 L902.95 235.81 L904.71 233.40 L906.47 231.02 L908.23 228.67 L909.99 226.35 L911.75 224.06 L913.51 221.80 L915.27 219.56 L917.03 217.35 L918.79 215.17 L920.55 213.01 L922.31 210.88 L924.07 208.78 L925.83 206.70 L927.60 204.65 L929.36 202.62 L931.12 200.62 L932.88 198.65 L934.64 196.70 L936.40 194.77 L938.16 192.86 L939.92 190.99 L941.68 189.13 L943.44 187.29 L945.20 185.48 L946.96 183.69 L948.72 181.93 L950.48 180.18 L952.24 178.46 L954.00 176.76 L955.76 175.07 L957.52 173.41 L959.28 171.77 L961.04 170.15 L962.80 168.55 L964.56 166.97 L966.32 165.40 L968.08 163.86 L969.84 162.33 L971.60 160.83 L973.36 159.34 L975.12 157.86 L976.88 156.41 L978.64 154.97 L980.40 153.55 L982.16 152.15 L983.92 150.76 L985.68 149.39 L987.44 148.03 L989.20 146.69 L990.97 145.37 L992.73 144.06 L994.49 142.77 L996.25 141.49 L998.01 140.22 L999.77 138.97 L1001.53 137.74 L1003.29 136.51 L1005.05 135.31 L1006.81 134.11 L1008.57 132.93 L1010.33 131.76 L1012.09 130.60 L1013.85 129.46 L1015.61 128.33 L1017.37 127.21 L1019.13 126.11 L1020.89 125.01 L1022.65 123.93"/>
<path d="M637.15 244.00 L638.91 246.16 L640.67 248.34 L642.43 250.56 L644.19 252.80 L645.95 255.06 L647.71 257.36 L649.47 259.68 L651.23 262.03 L652.99 264.41 L654.75 266.81 L656.51 269.25 L658.27 271.71 L660.03 274.19 L661.79 276.71 L663.55 279.25 L665.31 281.81 L667.07 284.41 L668.83 287.02 L670.60 289.67 L672.36 292.33 L674.12 295.02 L675.88 297.74 L677.64 300.47 L679.40 303.23 L681.16 306.01 L682.92 308.81 L684.68 311.62 L686.44 314.45 L688.20 317.30 L689.96 320.16 L691.72 323.03 L693.48 325.91 L695.24 328.80 L697.00 331.70 L698.76 334.60 L700.52 337.50 L702.28 340.40 L704.04 343.30 L705.80 346.19 L707.56 349.08 L709.32 351.95 L711.08 354.80 L712.84 357.64 L714.60 360.45 L716.36 363.24 L718.12 365.99 L719.88 368.71 L721.64 371.40 L723.40 374.04 L725.16 376.63 L726.92 379.17 L728.68 381.66 L730.44 384.09 L732.20 386.45 L733.97 388.73 L735.73 390.95 L737.49 393.08 L739.25 395.14 L741.01 397.10 L742.77 398.96 L744.53 400.73 L746.29 402.40 L748.05 403.96 L749.81 405.41 L751.57 406.75 L753.33 407.96 L755.09 409.06 L756.85 410.03 L758.61 410.88 L760.37 411.59 L762.13 412.17 L763.89 412.62 L765.65 412.94 L767.41 413.12 L769.17 413.16 L770.93 413.07 L772.69 412.84 L774.45 412.47 L776.21 411.98 L777.97 411.35 L779.73 410.58 L781.49 409.69 L783.25 408.68 L785.01 407.54 L786.77 406.28 L788.53 404.90 L790.29 403.41 L792.05 401.81 L793.81 400.11 L795.57 398.30 L797.33 396.40 L799.10 394.40 L800.86 392.32 L802.62 390.16 L804.38 387.91 L806.14 385.60 L807.90 383.21 L809.66 380.77 L811.42 378.26 L813.18 375.70 L814.94 373.09 L816.70 370.43 L818.46 367.73 L820.22 365.00 L821.98 362.23 L823.74 359.43 L825.50 356.61 L827.26 353.77 L829.02 350.91 L830.78 348.03 L832.54 345.15 L834.30 342.25 L836.06 339.35 L837.82 336.45 L839.58 333.55 L841.34 330.65 L843.10 327.76 L844.86 324.87 L846.62 321.99 L848.38 319.12 L850.14 316.27 L851.90 313.42 L853.66 310.60 L855.42 307.79 L857.18 305.00 L858.94 302.23 L860.70 299.48 L862.47 296.75 L864.23 294.05 L865.99 291.36 L867.75 288.71 L869.51 286.07 L871.27 283.46 L873.03 280.88 L874.79 278.32 L876.55 275.79 L878.31 273.29 L880.07 270.81 L881.83 268.36 L883.59 265.94 L885.35 263.54 L887.11 261.18 L888.87 258.84 L890.63 256.52 L892.39 254.24 L894.15 251.98 L895.91 249.75 L897.67 247.55 L899.43 245.37 L901.19 243.10 L902.95 240.63 L904.71 238.20 L906.47 235.79 L908.23 233.41 L909.99 231.06 L911.75 228.75 L913.51 226.46 L915.27 224.20 L917.03 221.96 L918.79 219.76 L920.55 217.58 L922.31 215.43 L924.07 213.31 L925.83 211.22 L927.60 209.15 L929.36 207.11 L931.12 205.09 L932.88 203.10 L934.64 201.14 L936.40 199.20 L938.16 197.28 L939.92 195.39 L941.68 193.52 L943.44 191.68 L945.20 189.85 L946.96 188.06 L948.72 186.28 L950.48 184.53 L952.24 182.80 L954.00 181.09 L955.76 179.40 L957.52 177.73 L959.28 176.08 L961.04 174.46 L962.80 172.85 L964.56 171.27 L966.32 169.70 L968.08 168.15 L969.84 166.62 L971.60 165.11 L973.36 163.62 L975.12 162.15 L976.88 160.69 L978.64 159.25 L980.40 157.83 L982.16 156.42 L983.92 155.04 L985.68 153.66 L987.44 152.31 L989.20 150.97 L990.97 149.65 L992.73 148.34 L994.49 147.05 L996.25 145.77 L998.01 144.50 L999.77 143.26 L1001.53 142.02 L1003.29 140.80 L1005.05 139.59 L1006.81 138.40 L1008.57 137.22 L1010.33 136.06 L1012.09 134.90 L1013.85 133.76 L1015.61 132.64 L1017.37 131.52 L1019.13 130.42 L1020.89 129.33 L1022.65 128.25"/>
<path d="M637.15 244.00 L638.91 246.13 L640.67 248.30 L642.43 250.49 L644.19 252.71 L645.95 254.95 L647.71 257.23 L649.47 259.53 L651.23 261.87 L652.99 264.23 L654.75 266.62 L656.51 269.04 L658.27 271.49 L660.03 273.97 L661.79 276.47 L663.55 279.01 L665.31 281.57 L667.07 284.16 L668.83 286.78 L670.60 289.43 L672.36 292.10 L674.12 294.80 L675.88 297.53 L677.64 300.28 L679.40 303.05 L681.16 305.85 L682.92 308.67 L684.68 311.51 L686.44 314.37 L688.20 317.26 L689.96 320.15 L691.72 323.07 L693.48 326.00 L695.24 328.94 L697.00 331.89 L698.76 334.85 L700.52 337.82 L702.28 340.79 L704.04 343.77 L705.80 346.74 L707.56 349.71 L709.32 352.67 L711.08 355.62 L712.84 358.55 L714.60 361.47 L716.36 364.37 L718.12 367.24 L719.88 370.09 L721.64 372.90 L723.40 375.67 L725.16 378.40 L726.92 381.09 L728.68 383.72 L730.44 386.30 L732.20 388.81 L733.97 391.26 L735.73 393.64 L737.49 395.94 L739.25 398.16 L741.01 400.30 L742.77 402.34 L744.53 404.28 L746.29 406.13 L748.05 407.86 L749.81 409.49 L751.57 411.00 L753.33 412.39 L755.09 413.66 L756.85 414.80 L758.61 415.82 L760.37 416.70 L762.13 417.44 L763.89 418.04 L765.65 418.51 L767.41 418.83 L769.17 419.01 L770.93 419.05 L772.69 418.95 L774.45 418.70 L776.21 418.32 L777.97 417.79 L779.73 417.12 L781.49 416.31 L783.25 415.38 L785.01 414.30 L786.77 413.10 L788.53 411.78 L790.29 410.33 L792.05 408.77 L793.81 407.09 L795.57 405.31 L797.33 403.42 L799.10 401.43 L800.86 399.34 L802.62 397.17 L804.38 394.91 L806.14 392.57 L807.90 390.16 L809.66 387.68 L811.42 385.14 L813.18 382.54 L814.94 379.88 L816.70 377.17 L818.46 374.42 L820.22 371.63 L821.98 368.80 L823.74 365.95 L825.50 363.06 L827.26 360.15 L829.02 357.23 L830.78 354.28 L832.54 351.33 L834.30 348.36 L836.06 345.39 L837.82 342.42 L839.58 339.45 L841.34 336.48 L843.10 333.51 L844.86 330.56 L846.62 327.61 L848.38 324.67 L850.14 321.75 L851.90 318.84 L853.66 315.95 L855.42 313.08 L857.18 310.22 L858.94 307.39 L860.70 304.58 L862.47 301.79 L864.23 299.03 L865.99 296.29 L867.75 293.58 L869.51 290.89 L871.27 288.23 L873.03 285.59 L874.79 282.99 L876.55 280.41 L878.31 277.86 L880.07 275.34 L881.83 272.84 L883.59 270.38 L885.35 267.94 L887.11 265.53 L888.87 263.16 L890.63 260.81 L892.39 258.49 L894.15 256.20 L895.91 253.93 L897.67 251.70 L899.43 249.49 L901.19 247.32 L902.95 245.17 L904.71 242.89 L906.47 240.45 L908.23 238.05 L909.99 235.67 L911.75 233.33 L913.51 231.02 L915.27 228.73 L917.03 226.48 L918.79 224.26 L920.55 222.06 L922.31 219.89 L924.07 217.75 L925.83 215.64 L927.60 213.56 L929.36 211.50 L931.12 209.47 L932.88 207.46 L934.64 205.49 L936.40 203.53 L938.16 201.61 L939.92 199.70 L941.68 197.83 L943.44 195.97 L945.20 194.14 L946.96 192.34 L948.72 190.55 L950.48 188.79 L952.24 187.06 L954.00 185.34 L955.76 183.65 L957.52 181.97 L959.28 180.32 L961.04 178.69 L962.80 177.08 L964.56 175.49 L966.32 173.92 L968.08 172.37 L969.84 170.84 L971.60 169.33 L973.36 167.84 L975.12 166.36 L976.88 164.91 L978.64 163.47 L980.40 162.05 L982.16 160.64 L983.92 159.25 L985.68 157.88 L987.44 156.53 L989.20 155.19 L990.97 153.87 L992.73 152.56 L994.49 151.27 L996.25 150.00 L998.01 148.74 L999.77 147.49 L1001.53 146.26 L1003.29 145.04 L1005.05 143.84 L1006.81 142.65 L1008.57 141.47 L1010.33 140.31 L1012.09 139.16 L1013.85 138.03 L1015.61 136.90 L1017.37 135.79 L1019.13 134.70 L1020.89 133.61 L1022.65 132.54"/>
<path d="M637.15 244.00 L638.91 246.11 L640.67 248.24 L642.43 250.41 L644.19 252.60 L645.95 254.83 L647.71 257.08 L649.47 259.37 L651.23 261.68 L652.99 264.02 L654.75 266.40 L656.51 268.80 L658.27 271.23 L660.03 273.70 L661.79 276.19 L663.55 278.72 L665.31 281.28 L667.07 283.86 L668.83 286.48 L670.60 289.12 L672.36 291.80 L674.12 294.50 L675.88 297.23 L677.64 299.99 L679.40 302.78 L681.16 305.59 L682.92 308.43 L684.68 311.30 L686.44 314.18 L688.20 317.09 L689.96 320.03 L691.72 322.98 L693.48 325.95 L695.24 328.94 L697.00 331.94 L698.76 334.95 L700.52 337.98 L702.28 341.02 L704.04 344.06 L705.80 347.11 L707.56 350.16 L709.32 353.20 L711.08 356.24 L712.84 359.28 L714.60 362.30 L716.36 365.31 L718.12 368.29 L719.88 371.26 L721.64 374.19 L723.40 377.10 L725.16 379.97 L726.92 382.79 L728.68 385.57 L730.44 388.30 L732.20 390.97 L733.97 393.58 L735.73 396.13 L737.49 398.60 L739.25 400.99 L741.01 403.30 L742.77 405.52 L744.53 407.65 L746.29 409.67 L748.05 411.59 L749.81 413.40 L751.57 415.10 L753.33 416.68 L755.09 418.13 L756.85 419.45 L758.61 420.64 L760.37 421.69 L762.13 422.60 L763.89 423.37 L765.65 424.00 L767.41 424.48 L769.17 424.81 L770.93 424.99 L772.69 425.02 L774.45 424.90 L776.21 424.63 L777.97 424.21 L779.73 423.65 L781.49 422.94 L783.25 422.08 L785.01 421.09 L786.77 419.95 L788.53 418.69 L790.29 417.29 L792.05 415.76 L793.81 414.12 L795.57 412.35 L797.33 410.48 L799.10 408.49 L800.86 406.41 L802.62 404.23 L804.38 401.95 L806.14 399.59 L807.90 397.15 L809.66 394.64 L811.42 392.05 L813.18 389.41 L814.94 386.70 L816.70 383.94 L818.46 381.13 L820.22 378.28 L821.98 375.39 L823.74 372.47 L825.50 369.51 L827.26 366.54 L829.02 363.54 L830.78 360.52 L832.54 357.49 L834.30 354.45 L836.06 351.41 L837.82 348.36 L839.58 345.31 L841.34 342.27 L843.10 339.23 L844.86 336.20 L846.62 333.18 L848.38 330.17 L850.14 327.17 L851.90 324.20 L853.66 321.24 L855.42 318.30 L857.18 315.38 L858.94 312.48 L860.70 309.61 L862.47 306.76 L864.23 303.93 L865.99 301.13 L867.75 298.36 L869.51 295.62 L871.27 292.90 L873.03 290.22 L874.79 287.56 L876.55 284.93 L878.31 282.33 L880.07 279.77 L881.83 277.23 L883.59 274.72 L885.35 272.24 L887.11 269.80 L888.87 267.38 L890.63 264.99 L892.39 262.64 L894.15 260.31 L895.91 258.02 L897.67 255.75 L899.43 253.52 L901.19 251.31 L902.95 249.13 L904.71 246.98 L906.47 244.86 L908.23 242.57 L909.99 240.17 L911.75 237.81 L913.51 235.47 L915.27 233.16 L917.03 230.89 L918.79 228.64 L920.55 226.43 L922.31 224.24 L924.07 222.09 L925.83 219.96 L927.60 217.86 L929.36 215.79 L931.12 213.75 L932.88 211.73 L934.64 209.74 L936.40 207.78 L938.16 205.84 L939.92 203.93 L941.68 202.04 L943.44 200.18 L945.20 198.34 L946.96 196.53 L948.72 194.74 L950.48 192.97 L952.24 191.23 L954.00 189.51 L955.76 187.81 L957.52 186.14 L959.28 184.48 L961.04 182.85 L962.80 181.24 L964.56 179.64 L966.32 178.07 L968.08 176.52 L969.84 174.99 L971.60 173.48 L973.36 171.99 L975.12 170.51 L976.88 169.05 L978.64 167.62 L980.40 166.20 L982.16 164.79 L983.92 163.41 L985.68 162.04 L987.44 160.69 L989.20 159.35 L990.97 158.03 L992.73 156.73 L994.49 155.44 L996.25 154.17 L998.01 152.91 L999.77 151.67 L1001.53 150.45 L1003.29 149.23 L1005.05 148.03 L1006.81 146.85 L1008.57 145.68 L1010.33 144.52 L1012.09 143.38 L1013.85 142.25 L1015.61 141.13 L1017.37 140.02 L1019.13 138.93 L1020.89 137.85 L1022.65 136.78"/>
<path d="M637.15 244.00 L638.91 246.08 L640.67 248.19 L642.43 250.33 L644.19 252.49 L645.95 254.69 L647.71 256.92 L649.47 259.18 L651.23 261.47 L652.99 263.79 L654.75 266.14 L656.51 268.53 L658.27 270.94 L660.03 273.39 L661.79 275.87 L663.55 278.38 L665.31 280.93 L667.07 283.50 L668.83 286.11 L670.60 288.75 L672.36 291.42 L674.12 294.12 L675.88 296.85 L677.64 299.62 L679.40 302.41 L681.16 305.24 L682.92 308.09 L684.68 310.97 L686.44 313.88 L688.20 316.81 L689.96 319.77 L691.72 322.75 L693.48 325.76 L695.24 328.79 L697.00 331.83 L698.76 334.90 L700.52 337.98 L702.28 341.08 L704.04 344.18 L705.80 347.30 L707.56 350.42 L709.32 353.55 L711.08 356.68 L712.84 359.80 L714.60 362.92 L716.36 366.03 L718.12 369.13 L719.88 372.21 L721.64 375.27 L723.40 378.30 L725.16 381.31 L726.92 384.27 L728.68 387.20 L730.44 390.08 L732.20 392.91 L733.97 395.68 L735.73 398.39 L737.49 401.04 L739.25 403.60 L741.01 406.09 L742.77 408.50 L744.53 410.81 L746.29 413.02 L748.05 415.13 L749.81 417.14 L751.57 419.02 L753.33 420.79 L755.09 422.43 L756.85 423.94 L758.61 425.32 L760.37 426.56 L762.13 427.65 L763.89 428.60 L765.65 429.39 L767.41 430.04 L769.17 430.53 L770.93 430.86 L772.69 431.04 L774.45 431.06 L776.21 430.92 L777.97 430.62 L779.73 430.16 L781.49 429.55 L783.25 428.79 L785.01 427.88 L786.77 426.82 L788.53 425.61 L790.29 424.27 L792.05 422.79 L793.81 421.18 L795.57 419.44 L797.33 417.58 L799.10 415.60 L800.86 413.51 L802.62 411.32 L804.38 409.03 L806.14 406.65 L807.90 404.18 L809.66 401.63 L811.42 399.00 L813.18 396.31 L814.94 393.55 L816.70 390.73 L818.46 387.86 L820.22 384.94 L821.98 381.99 L823.74 378.99 L825.50 375.96 L827.26 372.91 L829.02 369.84 L830.78 366.74 L832.54 363.63 L834.30 360.52 L836.06 357.39 L837.82 354.26 L839.58 351.14 L841.34 348.01 L843.10 344.89 L844.86 341.78 L846.62 338.69 L848.38 335.60 L850.14 332.53 L851.90 329.48 L853.66 326.45 L855.42 323.44 L857.18 320.45 L858.94 317.48 L860.70 314.54 L862.47 311.63 L864.23 308.74 L865.99 305.88 L867.75 303.05 L869.51 300.25 L871.27 297.48 L873.03 294.74 L874.79 292.03 L876.55 289.35 L878.31 286.71 L880.07 284.09 L881.83 281.51 L883.59 278.96 L885.35 276.44 L887.11 273.95 L888.87 271.50 L890.63 269.07 L892.39 266.68 L894.15 264.32 L895.91 261.99 L897.67 259.70 L899.43 257.43 L901.19 255.20 L902.95 252.99 L904.71 250.82 L906.47 248.67 L908.23 246.56 L909.99 244.47 L911.75 242.16 L913.51 239.80 L915.27 237.47 L917.03 235.18 L918.79 232.91 L920.55 230.68 L922.31 228.48 L924.07 226.31 L925.83 224.17 L927.60 222.05 L929.36 219.97 L931.12 217.91 L932.88 215.88 L934.64 213.88 L936.40 211.91 L938.16 209.96 L939.92 208.04 L941.68 206.15 L943.44 204.28 L945.20 202.44 L946.96 200.62 L948.72 198.83 L950.48 197.06 L952.24 195.31 L954.00 193.59 L955.76 191.89 L957.52 190.21 L959.28 188.55 L961.04 186.92 L962.80 185.30 L964.56 183.71 L966.32 182.14 L968.08 180.59 L969.84 179.06 L971.60 177.55 L973.36 176.06 L975.12 174.58 L976.88 173.13 L978.64 171.69 L980.40 170.28 L982.16 168.88 L983.92 167.49 L985.68 166.13 L987.44 164.78 L989.20 163.45 L990.97 162.14 L992.73 160.84 L994.49 159.55 L996.25 158.29 L998.01 157.03 L999.77 155.80 L1001.53 154.58 L1003.29 153.37 L1005.05 152.18 L1006.81 151.00 L1008.57 149.83 L1010.33 148.68 L1012.09 147.54 L1013.85 146.42 L1015.61 145.31 L1017.37 144.21 L1019.13 143.12 L1020.89 142.05 L1022.65 140.99"/>
<path d="M637.15 244.00 L638.91 246.05 L640.67 248.12 L642.43 250.23 L644.19 252.37 L645.95 254.54 L647.71 256.74 L649.47 258.97 L651.23 261.23 L652.99 263.53 L654.75 265.86 L656.51 268.22 L658.27 270.61 L660.03 273.04 L661.79 275.50 L663.55 277.99 L665.31 280.52 L667.07 283.08 L668.83 285.68 L670.60 288.31 L672.36 290.97 L674.12 293.66 L675.88 296.39 L677.64 299.16 L679.40 301.95 L681.16 304.78 L682.92 307.64 L684.68 310.53 L686.44 313.45 L688.20 316.41 L689.96 319.39 L691.72 322.40 L693.48 325.43 L695.24 328.49 L697.00 331.58 L698.76 334.69 L700.52 337.82 L702.28 340.96 L704.04 344.13 L705.80 347.31 L707.56 350.50 L709.32 353.70 L711.08 356.91 L712.84 360.13 L714.60 363.34 L716.36 366.55 L718.12 369.75 L719.88 372.94 L721.64 376.12 L723.40 379.28 L725.16 382.41 L726.92 385.52 L728.68 388.59 L730.44 391.62 L732.20 394.61 L733.97 397.54 L735.73 400.42 L737.49 403.24 L739.25 405.98 L741.01 408.66 L742.77 411.25 L744.53 413.75 L746.29 416.16 L748.05 418.47 L749.81 420.67 L751.57 422.75 L753.33 424.72 L755.09 426.56 L756.85 428.27 L758.61 429.85 L760.37 431.28 L762.13 432.56 L763.89 433.70 L765.65 434.68 L767.41 435.50 L769.17 436.16 L770.93 436.66 L772.69 436.99 L774.45 437.16 L776.21 437.16 L777.97 436.99 L779.73 436.66 L781.49 436.16 L783.25 435.50 L785.01 434.67 L786.77 433.69 L788.53 432.56 L790.29 431.27 L792.05 429.84 L793.81 428.27 L795.57 426.56 L797.33 424.71 L799.10 422.75 L800.86 420.66 L802.62 418.46 L804.38 416.15 L806.14 413.74 L807.90 411.24 L809.66 408.65 L811.42 405.98 L813.18 403.23 L814.94 400.41 L816.70 397.53 L818.46 394.60 L820.22 391.61 L821.98 388.58 L823.74 385.51 L825.50 382.40 L827.26 379.27 L829.02 376.11 L830.78 372.94 L832.54 369.74 L834.30 366.54 L836.06 363.33 L837.82 360.12 L839.58 356.90 L841.34 353.70 L843.10 350.49 L844.86 347.30 L846.62 344.12 L848.38 340.96 L850.14 337.81 L851.90 334.68 L853.66 331.57 L855.42 328.48 L857.18 325.42 L858.94 322.39 L860.70 319.38 L862.47 316.40 L864.23 313.45 L865.99 310.52 L867.75 307.63 L869.51 304.77 L871.27 301.94 L873.03 299.15 L874.79 296.39 L876.55 293.66 L878.31 290.96 L880.07 288.30 L881.83 285.67 L883.59 283.07 L885.35 280.51 L887.11 277.99 L888.87 275.49 L890.63 273.03 L892.39 270.60 L894.15 268.21 L895.91 265.85 L897.67 263.52 L899.43 261.23 L901.19 258.96 L902.95 256.73 L904.71 254.53 L906.47 252.36 L908.23 250.23 L909.99 248.12 L911.75 246.04 L913.51 243.99 L915.27 241.65 L917.03 239.33 L918.79 237.05 L920.55 234.80 L922.31 232.59 L924.07 230.40 L925.83 228.25 L927.60 226.12 L929.36 224.02 L931.12 221.96 L932.88 219.92 L934.64 217.91 L936.40 215.93 L938.16 213.98 L939.92 212.05 L941.68 210.15 L943.44 208.28 L945.20 206.43 L946.96 204.61 L948.72 202.81 L950.48 201.04 L952.24 199.29 L954.00 197.56 L955.76 195.86 L957.52 194.18 L959.28 192.53 L961.04 190.89 L962.80 189.28 L964.56 187.69 L966.32 186.12 L968.08 184.57 L969.84 183.04 L971.60 181.53 L973.36 180.04 L975.12 178.57 L976.88 177.12 L978.64 175.69 L980.40 174.28 L982.16 172.88 L983.92 171.51 L985.68 170.15 L987.44 168.80 L989.20 167.48 L990.97 166.17 L992.73 164.87 L994.49 163.60 L996.25 162.34 L998.01 161.09 L999.77 159.86 L1001.53 158.64 L1003.29 157.44 L1005.05 156.26 L1006.81 155.09 L1008.57 153.93 L1010.33 152.78 L1012.09 151.65 L1013.85 150.54 L1015.61 149.43 L1017.37 148.34 L1019.13 147.26 L1020.89 146.20 L1022.65 145.15"/>
<path d="M637.15 244.00 L638.91 246.01 L640.67 248.06 L642.43 250.13 L644.19 252.24 L645.95 254.37 L647.71 256.54 L649.47 258.74 L651.23 260.98 L652.99 263.24 L654.75 265.54 L656.51 267.88 L658.27 270.24 L660.03 272.65 L661.79 275.08 L663.55 277.55 L665.31 280.06 L667.07 282.60 L668.83 285.18 L670.60 287.80 L672.36 290.44 L674.12 293.13 L675.88 295.85 L677.64 298.61 L679.40 301.40 L681.16 304.23 L682.92 307.09 L684.68 309.98 L686.44 312.91 L688.20 315.88 L689.96 318.87 L691.72 321.90 L693.48 324.96 L695.24 328.05 L697.00 331.17 L698.76 334.31 L700.52 337.48 L702.28 340.68 L704.04 343.89 L705.80 347.13 L707.56 350.39 L709.32 353.66 L711.08 356.94 L712.84 360.23 L714.60 363.53 L716.36 366.84 L718.12 370.14 L719.88 373.44 L721.64 376.73 L723.40 380.01 L725.16 383.27 L726.92 386.51 L728.68 389.73 L730.44 392.91 L732.20 396.05 L733.97 399.15 L735.73 402.19 L737.49 405.19 L739.25 408.11 L741.01 410.97 L742.77 413.75 L744.53 416.45 L746.29 419.06 L748.05 421.57 L749.81 423.97 L751.57 426.27 L753.33 428.44 L755.09 430.49 L756.85 432.41 L758.61 434.20 L760.37 435.83 L762.13 437.32 L763.89 438.66 L765.65 439.83 L767.41 440.85 L769.17 441.69 L770.93 442.37 L772.69 442.87 L774.45 443.19 L776.21 443.35 L777.97 443.32 L779.73 443.12 L781.49 442.74 L783.25 442.19 L785.01 441.47 L786.77 440.58 L788.53 439.52 L790.29 438.30 L792.05 436.92 L793.81 435.39 L795.57 433.71 L797.33 431.89 L799.10 429.93 L800.86 427.84 L802.62 425.63 L804.38 423.31 L806.14 420.87 L807.90 418.33 L809.66 415.70 L811.42 412.98 L813.18 410.18 L814.94 407.30 L816.70 404.35 L818.46 401.34 L820.22 398.28 L821.98 395.17 L823.74 392.02 L825.50 388.83 L827.26 385.61 L829.02 382.36 L830.78 379.09 L832.54 375.81 L834.30 372.51 L836.06 369.21 L837.82 365.91 L839.58 362.61 L841.34 359.31 L843.10 356.02 L844.86 352.74 L846.62 349.47 L848.38 346.22 L850.14 342.99 L851.90 339.78 L853.66 336.59 L855.42 333.43 L857.18 330.29 L858.94 327.18 L860.70 324.10 L862.47 321.05 L864.23 318.03 L865.99 315.04 L867.75 312.09 L869.51 309.17 L871.27 306.28 L873.03 303.43 L874.79 300.61 L876.55 297.83 L878.31 295.08 L880.07 292.37 L881.83 289.70 L883.59 287.06 L885.35 284.45 L887.11 281.89 L888.87 279.35 L890.63 276.86 L892.39 274.39 L894.15 271.97 L895.91 269.57 L897.67 267.22 L899.43 264.89 L901.19 262.60 L902.95 260.34 L904.71 258.12 L906.47 255.93 L908.23 253.77 L909.99 251.64 L911.75 249.54 L913.51 247.48 L915.27 245.44 L917.03 243.35 L918.79 241.05 L920.55 238.79 L922.31 236.56 L924.07 234.36 L925.83 232.19 L927.60 230.06 L929.36 227.95 L931.12 225.88 L932.88 223.83 L934.64 221.81 L936.40 219.83 L938.16 217.87 L939.92 215.94 L941.68 214.03 L943.44 212.15 L945.20 210.30 L946.96 208.48 L948.72 206.68 L950.48 204.91 L952.24 203.16 L954.00 201.43 L955.76 199.73 L957.52 198.05 L959.28 196.40 L961.04 194.77 L962.80 193.16 L964.56 191.57 L966.32 190.00 L968.08 188.46 L969.84 186.93 L971.60 185.43 L973.36 183.94 L975.12 182.48 L976.88 181.03 L978.64 179.61 L980.40 178.20 L982.16 176.81 L983.92 175.44 L985.68 174.08 L987.44 172.75 L989.20 171.43 L990.97 170.13 L992.73 168.84 L994.49 167.57 L996.25 166.32 L998.01 165.08 L999.77 163.86 L1001.53 162.65 L1003.29 161.46 L1005.05 160.28 L1006.81 159.11 L1008.57 157.96 L1010.33 156.83 L1012.09 155.71 L1013.85 154.60 L1015.61 153.50 L1017.37 152.42 L1019.13 151.35 L1020.89 150.30 L1022.65 149.25"/>
<path d="M637.15 244.00 L638.91 245.98 L640.67 247.98 L642.43 250.02 L644.19 252.09 L645.95 254.19 L647.71 256.33 L649.47 258.49 L651.23 260.69 L652.99 262.93 L654.75 265.20 L656.51 267.50 L658.27 269.84 L660.03 272.21 L661.79 274.62 L663.55 277.07 L665.31 279.55 L667.07 282.07 L668.83 284.62 L670.60 287.22 L672.36 289.85 L674.12 292.52 L675.88 295.22 L677.64 297.97 L679.40 300.75 L681.16 303.57 L682.92 306.43 L684.68 309.32 L686.44 312.26 L688.20 315.22 L689.96 318.23 L691.72 321.27 L693.48 324.35 L695.24 327.45 L697.00 330.60 L698.76 333.77 L700.52 336.98 L702.28 340.21 L704.04 343.47 L705.80 346.76 L707.56 350.07 L709.32 353.40 L711.08 356.75 L712.84 360.12 L714.60 363.50 L716.36 366.90 L718.12 370.29 L719.88 373.69 L721.64 377.10 L723.40 380.49 L725.16 383.88 L726.92 387.25 L728.68 390.60 L730.44 393.93 L732.20 397.22 L733.97 400.48 L735.73 403.70 L737.49 406.86 L739.25 409.97 L741.01 413.02 L742.77 415.99 L744.53 418.89 L746.29 421.70 L748.05 424.42 L749.81 427.04 L751.57 429.55 L753.33 431.94 L755.09 434.21 L756.85 436.35 L758.61 438.35 L760.37 440.21 L762.13 441.91 L763.89 443.46 L765.65 444.84 L767.41 446.06 L769.17 447.10 L770.93 447.97 L772.69 448.65 L774.45 449.15 L776.21 449.47 L777.97 449.60 L779.73 449.54 L781.49 449.30 L783.25 448.87 L785.01 448.26 L786.77 447.46 L788.53 446.49 L790.29 445.34 L792.05 444.02 L793.81 442.54 L795.57 440.89 L797.33 439.10 L799.10 437.15 L800.86 435.06 L802.62 432.84 L804.38 430.50 L806.14 428.03 L807.90 425.46 L809.66 422.78 L811.42 420.00 L813.18 417.14 L814.94 414.19 L816.70 411.17 L818.46 408.09 L820.22 404.94 L821.98 401.75 L823.74 398.50 L825.50 395.22 L827.26 391.91 L829.02 388.56 L830.78 385.20 L832.54 381.82 L834.30 378.43 L836.06 375.03 L837.82 371.63 L839.58 368.23 L841.34 364.83 L843.10 361.45 L844.86 358.07 L846.62 354.72 L848.38 351.38 L850.14 348.06 L851.90 344.76 L853.66 341.49 L855.42 338.24 L857.18 335.03 L858.94 331.84 L860.70 328.68 L862.47 325.56 L864.23 322.47 L865.99 319.42 L867.75 316.40 L869.51 313.42 L871.27 310.47 L873.03 307.56 L874.79 304.69 L876.55 301.85 L878.31 299.05 L880.07 296.30 L881.83 293.57 L883.59 290.89 L885.35 288.24 L887.11 285.64 L888.87 283.07 L890.63 280.53 L892.39 278.04 L894.15 275.58 L895.91 273.15 L897.67 270.76 L899.43 268.41 L901.19 266.10 L902.95 263.81 L904.71 261.57 L906.47 259.35 L908.23 257.17 L909.99 255.03 L911.75 252.91 L913.51 250.83 L915.27 248.78 L917.03 246.76 L918.79 244.77 L920.55 242.62 L922.31 240.38 L924.07 238.17 L925.83 235.99 L927.60 233.85 L929.36 231.73 L931.12 229.65 L932.88 227.60 L934.64 225.58 L936.40 223.59 L938.16 221.62 L939.92 219.69 L941.68 217.78 L943.44 215.91 L945.20 214.05 L946.96 212.23 L948.72 210.43 L950.48 208.66 L952.24 206.91 L954.00 205.19 L955.76 203.49 L957.52 201.81 L959.28 200.16 L961.04 198.53 L962.80 196.93 L964.56 195.34 L966.32 193.78 L968.08 192.24 L969.84 190.72 L971.60 189.22 L973.36 187.75 L975.12 186.29 L976.88 184.85 L978.64 183.43 L980.40 182.03 L982.16 180.65 L983.92 179.28 L985.68 177.94 L987.44 176.61 L989.20 175.30 L990.97 174.00 L992.73 172.73 L994.49 171.47 L996.25 170.22 L998.01 168.99 L999.77 167.78 L1001.53 166.58 L1003.29 165.40 L1005.05 164.23 L1006.81 163.08 L1008.57 161.94 L1010.33 160.81 L1012.09 159.70 L1013.85 158.60 L1015.61 157.52 L1017.37 156.44 L1019.13 155.39 L1020.89 154.34 L1022.65 153.31"/>
</g>
<g fill="#000" stroke="none" clip-path="url(#c1)">
<path d="M637.15 244.00 L639.11 246.46 L641.07 248.96 L643.03 251.48 L644.98 254.04 L646.94 256.62 L648.90 259.23 L650.86 261.87 L652.82 264.54 L654.78 267.24 L656.73 269.96 L658.69 272.71 L660.65 275.49 L662.61 278.30 L664.57 281.12 L666.53 283.98 L668.48 286.85 L670.44 289.75 L672.40 292.66 L674.36 295.60 L676.32 298.55 L678.28 301.52 L680.24 304.50 L682.19 307.50 L684.15 310.50 L686.11 313.51 L688.07 316.53 L690.03 319.55 L691.99 322.57 L693.94 325.59 L695.90 328.60 L697.86 331.60 L699.82 334.58 L701.78 337.55 L703.74 340.50 L705.69 343.43 L707.65 346.32 L709.61 349.19 L711.57 352.01 L713.53 354.80 L713.53 356.28 L711.57 353.37 L709.61 350.43 L707.65 347.45 L705.69 344.45 L703.74 341.42 L701.78 338.38 L699.82 335.32 L697.86 332.24 L695.90 329.16 L693.94 326.08 L691.99 322.99 L690.03 319.91 L688.07 316.83 L686.11 313.76 L684.15 310.70 L682.19 307.65 L680.24 304.61 L678.28 301.59 L676.32 298.59 L674.36 295.61 L672.40 292.65 L670.44 289.71 L668.48 286.80 L666.53 283.91 L664.57 281.04 L662.61 278.21 L660.65 275.40 L658.69 272.61 L656.73 269.86 L654.78 267.14 L652.82 264.44 L650.86 261.78 L648.90 259.15 L646.94 256.55 L644.98 253.97 L643.03 251.43 L641.07 248.92 L639.11 246.45 L637.15 244.00Z"/>
<path d="M637.15 244.00 L639.18 246.54 L641.21 249.11 L643.24 251.71 L645.27 254.35 L647.30 257.02 L649.33 259.73 L651.37 262.47 L653.40 265.24 L655.43 268.04 L657.46 270.87 L659.49 273.74 L661.52 276.64 L663.55 279.56 L665.58 282.52 L667.61 285.50 L669.64 288.52 L671.67 291.55 L673.70 294.62 L675.73 297.70 L677.77 300.81 L679.80 303.93 L681.83 307.08 L683.86 310.24 L685.89 313.41 L687.92 316.60 L689.95 319.79 L691.98 322.99 L694.01 326.18 L696.04 329.38 L698.07 332.58 L700.10 335.76 L702.13 338.93 L704.17 342.09 L706.20 345.22 L708.23 348.33 L710.26 351.40 L712.29 354.44 L714.32 357.44 L716.35 360.39 L716.35 361.90 L714.32 358.81 L712.29 355.68 L710.26 352.52 L708.23 349.33 L706.20 346.11 L704.17 342.88 L702.13 339.63 L700.10 336.36 L698.07 333.09 L696.04 329.82 L694.01 326.55 L691.98 323.29 L689.95 320.03 L687.92 316.78 L685.89 313.54 L683.86 310.32 L681.83 307.12 L679.80 303.94 L677.77 300.78 L675.73 297.65 L673.70 294.54 L671.67 291.46 L669.64 288.41 L667.61 285.38 L665.58 282.39 L663.55 279.43 L661.52 276.50 L659.49 273.60 L657.46 270.74 L655.43 267.91 L653.40 265.11 L651.37 262.35 L649.33 259.62 L647.30 256.93 L645.27 254.28 L643.24 251.65 L641.21 249.07 L639.18 246.52 L637.15 244.00Z"/>
<path d="M637.15 244.00 L639.25 246.61 L641.36 249.25 L643.46 251.93 L645.56 254.65 L647.67 257.41 L649.77 260.20 L651.87 263.04 L653.97 265.90 L656.08 268.81 L658.18 271.75 L660.28 274.73 L662.39 277.75 L664.49 280.80 L666.59 283.88 L668.70 287.00 L670.80 290.14 L672.90 293.32 L675.01 296.53 L677.11 299.77 L679.21 303.03 L681.32 306.32 L683.42 309.63 L685.52 312.96 L687.62 316.31 L689.73 319.67 L691.83 323.04 L693.93 326.43 L696.04 329.81 L698.14 333.20 L700.24 336.59 L702.35 339.97 L704.45 343.33 L706.55 346.68 L708.66 350.01 L710.76 353.31 L712.86 356.57 L714.97 359.80 L717.07 362.98 L719.17 366.10 L719.17 367.62 L717.07 364.35 L714.97 361.03 L712.86 357.67 L710.76 354.28 L708.66 350.86 L706.55 347.43 L704.45 343.98 L702.35 340.51 L700.24 337.05 L698.14 333.58 L696.04 330.12 L693.93 326.66 L691.83 323.21 L689.73 319.78 L687.62 316.37 L685.52 312.98 L683.42 309.61 L681.32 306.26 L679.21 302.94 L677.11 299.65 L675.01 296.39 L672.90 293.17 L670.80 289.97 L668.70 286.82 L666.59 283.69 L664.49 280.61 L662.39 277.56 L660.28 274.55 L658.18 271.58 L656.08 268.64 L653.97 265.75 L651.87 262.89 L649.77 260.08 L647.67 257.30 L645.56 254.56 L643.46 251.86 L641.36 249.20 L639.25 246.58 L637.15 244.00Z"/>
<path d="M637.15 244.00 L639.33 246.68 L641.52 249.40 L643.70 252.17 L645.88 254.98 L648.07 257.83 L650.25 260.72 L652.43 263.65 L654.62 266.63 L656.80 269.65 L658.99 272.71 L661.17 275.81 L663.35 278.95 L665.54 282.14 L667.72 285.36 L669.90 288.62 L672.09 291.92 L674.27 295.26 L676.45 298.63 L678.64 302.04 L680.82 305.48 L683.00 308.94 L685.19 312.44 L687.37 315.96 L689.55 319.50 L691.74 323.06 L693.92 326.64 L696.10 330.23 L698.29 333.82 L700.47 337.42 L702.66 341.02 L704.84 344.62 L707.02 348.20 L709.21 351.76 L711.39 355.30 L713.57 358.81 L715.76 362.28 L717.94 365.71 L720.12 369.08 L722.31 372.40 L722.31 373.95 L720.12 370.47 L717.94 366.95 L715.76 363.37 L713.57 359.77 L711.39 356.13 L709.21 352.47 L707.02 348.80 L704.84 345.11 L702.66 341.43 L700.47 337.74 L698.29 334.06 L696.10 330.39 L693.92 326.74 L691.74 323.10 L689.55 319.49 L687.37 315.90 L685.19 312.34 L683.00 308.81 L680.82 305.31 L678.64 301.85 L676.45 298.43 L674.27 295.04 L672.09 291.69 L669.90 288.38 L667.72 285.12 L665.54 281.90 L663.35 278.72 L661.17 275.58 L658.99 272.49 L656.80 269.44 L654.62 266.44 L652.43 263.48 L650.25 260.56 L648.07 257.69 L645.88 254.87 L643.70 252.08 L641.52 249.35 L639.33 246.65 L637.15 244.00Z"/>
<path d="M637.15 244.00 L639.41 246.75 L641.68 249.55 L643.94 252.39 L646.21 255.28 L648.47 258.22 L650.73 261.20 L653.00 264.24 L655.26 267.32 L657.53 270.44 L659.79 273.62 L662.05 276.84 L664.32 280.12 L666.58 283.43 L668.84 286.80 L671.11 290.20 L673.37 293.66 L675.64 297.15 L677.90 300.69 L680.16 304.27 L682.43 307.88 L684.69 311.54 L686.96 315.22 L689.22 318.94 L691.48 322.68 L693.75 326.45 L696.01 330.23 L698.28 334.04 L700.54 337.85 L702.80 341.68 L705.07 345.50 L707.33 349.32 L709.59 353.13 L711.86 356.91 L714.12 360.68 L716.39 364.41 L718.65 368.10 L720.91 371.74 L723.18 375.32 L725.44 378.83 L725.44 380.42 L723.18 376.73 L720.91 372.98 L718.65 369.18 L716.39 365.35 L714.12 361.48 L711.86 357.58 L709.59 353.68 L707.33 349.76 L705.07 345.84 L702.80 341.92 L700.54 338.02 L698.28 334.12 L696.01 330.25 L693.75 326.40 L691.48 322.58 L689.22 318.79 L686.96 315.04 L684.69 311.32 L682.43 307.64 L680.16 304.00 L677.90 300.41 L675.64 296.86 L673.37 293.35 L671.11 289.90 L668.84 286.49 L666.58 283.13 L664.32 279.82 L662.05 276.56 L659.79 273.36 L657.53 270.20 L655.26 267.09 L653.00 264.03 L650.73 261.02 L648.47 258.06 L646.21 255.15 L643.94 252.29 L641.68 249.48 L639.41 246.72 L637.15 244.00Z"/>
<path d="M637.15 244.00 L639.49 246.80 L641.82 249.66 L644.16 252.56 L646.49 255.52 L648.83 258.53 L651.17 261.59 L653.50 264.71 L655.84 267.88 L658.18 271.10 L660.51 274.38 L662.85 277.70 L665.18 281.09 L667.52 284.52 L669.86 288.01 L672.19 291.55 L674.53 295.14 L676.87 298.78 L679.20 302.47 L681.54 306.21 L683.87 309.99 L686.21 313.81 L688.55 317.67 L690.88 321.58 L693.22 325.51 L695.56 329.48 L697.89 333.47 L700.23 337.48 L702.56 341.51 L704.90 345.55 L707.24 349.60 L709.57 353.64 L711.91 357.67 L714.25 361.69 L716.58 365.68 L718.92 369.64 L721.25 373.55 L723.59 377.41 L725.93 381.20 L728.26 384.91 L728.26 386.50 L725.93 382.60 L723.59 378.63 L721.25 374.60 L718.92 370.53 L716.58 366.42 L714.25 362.29 L711.91 358.15 L709.57 354.00 L707.24 349.85 L704.90 345.71 L702.56 341.58 L700.23 337.47 L697.89 333.39 L695.56 329.34 L693.22 325.32 L690.88 321.34 L688.55 317.40 L686.21 313.50 L683.87 309.65 L681.54 305.85 L679.20 302.10 L676.87 298.41 L674.53 294.76 L672.19 291.17 L669.86 287.64 L667.52 284.16 L665.18 280.74 L662.85 277.37 L660.51 274.06 L658.18 270.81 L655.84 267.61 L653.50 264.47 L651.17 261.38 L648.83 258.35 L646.49 255.38 L644.16 252.45 L641.82 249.58 L639.49 246.77 L637.15 244.00Z"/>
<path d="M637.15 244.00 L639.57 246.86 L641.98 249.78 L644.40 252.75 L646.82 255.78 L649.23 258.87 L651.65 262.02 L654.07 265.22 L656.48 268.49 L658.90 271.81 L661.32 275.19 L663.73 278.64 L666.15 282.14 L668.57 285.71 L670.98 289.33 L673.40 293.02 L675.82 296.76 L678.23 300.56 L680.65 304.42 L683.07 308.33 L685.48 312.30 L687.90 316.31 L690.32 320.37 L692.73 324.48 L695.15 328.63 L697.57 332.82 L699.98 337.04 L702.40 341.29 L704.82 345.56 L707.23 349.84 L709.65 354.13 L712.07 358.43 L714.48 362.71 L716.90 366.98 L719.32 371.22 L721.73 375.43 L724.15 379.58 L726.57 383.67 L728.98 387.69 L731.40 391.62 L731.40 393.25 L728.98 389.10 L726.57 384.89 L724.15 380.61 L721.73 376.28 L719.32 371.92 L716.90 367.53 L714.48 363.12 L712.07 358.71 L709.65 354.30 L707.23 349.91 L704.82 345.53 L702.40 341.18 L699.98 336.86 L697.57 332.58 L695.15 328.34 L692.73 324.14 L690.32 320.00 L687.90 315.90 L685.48 311.86 L683.07 307.88 L680.65 303.96 L678.23 300.10 L675.82 296.30 L673.40 292.56 L670.98 288.89 L668.57 285.28 L666.15 281.73 L663.73 278.25 L661.32 274.83 L658.90 271.47 L656.48 268.18 L654.07 264.95 L651.65 261.77 L649.23 258.67 L646.82 255.62 L644.40 252.63 L641.98 249.69 L639.57 246.82 L637.15 244.00Z"/>
<path d="M637.15 244.00 L639.65 246.91 L642.14 249.89 L644.64 252.92 L647.14 256.02 L649.64 259.18 L652.13 262.40 L654.63 265.69 L657.13 269.05 L659.62 272.47 L662.12 275.96 L664.62 279.52 L667.11 283.14 L669.61 286.83 L672.11 290.59 L674.61 294.42 L677.10 298.32 L679.60 302.28 L682.10 306.30 L684.59 310.39 L687.09 314.55 L689.59 318.76 L692.08 323.02 L694.58 327.35 L697.08 331.72 L699.58 336.14 L702.07 340.59 L704.57 345.08 L707.07 349.61 L709.56 354.15 L712.06 358.70 L714.56 363.26 L717.05 367.81 L719.55 372.34 L722.05 376.85 L724.55 381.32 L727.04 385.73 L729.54 390.07 L732.04 394.32 L734.53 398.48 L734.53 400.14 L732.04 395.75 L729.54 391.28 L727.04 386.73 L724.55 382.13 L722.05 377.49 L719.55 372.82 L717.05 368.14 L714.56 363.45 L712.06 358.77 L709.56 354.11 L707.07 349.47 L704.57 344.87 L702.07 340.30 L699.58 335.78 L697.08 331.31 L694.58 326.89 L692.08 322.54 L689.59 318.24 L687.09 314.01 L684.59 309.84 L682.10 305.75 L679.60 301.72 L677.10 297.77 L674.61 293.88 L672.11 290.07 L669.61 286.33 L667.11 282.66 L664.62 279.06 L662.12 275.54 L659.62 272.08 L657.13 268.70 L654.63 265.38 L652.13 262.13 L649.64 258.95 L647.14 255.83 L644.64 252.78 L642.14 249.79 L639.65 246.86 L637.15 244.00Z"/>
<path d="M637.15 244.00 L639.73 246.96 L642.30 249.98 L644.88 253.07 L647.46 256.23 L650.04 259.46 L652.61 262.75 L655.19 266.12 L657.77 269.56 L660.35 273.08 L662.92 276.67 L665.50 280.33 L668.08 284.07 L670.66 287.89 L673.23 291.78 L675.81 295.75 L678.39 299.80 L680.97 303.92 L683.54 308.11 L686.12 312.38 L688.70 316.73 L691.28 321.14 L693.85 325.61 L696.43 330.16 L699.01 334.76 L701.59 339.41 L704.16 344.12 L706.74 348.87 L709.32 353.65 L711.90 358.46 L714.47 363.29 L717.05 368.13 L719.63 372.96 L722.20 377.78 L724.78 382.57 L727.36 387.31 L729.94 391.99 L732.51 396.60 L735.09 401.10 L737.67 405.49 L737.67 407.19 L735.09 402.54 L732.51 397.80 L729.94 392.97 L727.36 388.08 L724.78 383.14 L722.20 378.18 L719.63 373.20 L717.05 368.22 L714.47 363.25 L711.90 358.31 L709.32 353.40 L706.74 348.52 L704.16 343.70 L701.59 338.93 L699.01 334.22 L696.43 329.58 L693.85 325.00 L691.28 320.50 L688.70 316.07 L686.12 311.72 L683.54 307.45 L680.97 303.26 L678.39 299.15 L675.81 295.12 L673.23 291.18 L670.66 287.31 L668.08 283.52 L665.50 279.81 L662.92 276.19 L660.35 272.64 L657.77 269.16 L655.19 265.77 L652.61 262.45 L650.04 259.20 L647.46 256.02 L644.88 252.91 L642.30 249.88 L639.73 246.90 L637.15 244.00Z"/>
</g>
<rect x="95.0" y="30.05" width="386.1" height="427.9" fill="none" stroke="#1a1a1a" stroke-width="1.2"/>
<path d="M114.31 457.95 v-4.3 M114.31 30.05 v4.3 M133.61 457.95 v-4.3 M133.61 30.05 v4.3 M152.92 457.95 v-4.3 M152.92 30.05 v4.3 M172.22 457.95 v-4.3 M172.22 30.05 v4.3 M191.53 457.95 v-8.5 M191.53 30.05 v8.5 M210.83 457.95 v-4.3 M210.83 30.05 v4.3 M230.14 457.95 v-4.3 M230.14 30.05 v4.3 M249.44 457.95 v-4.3 M249.44 30.05 v4.3 M268.75 457.95 v-4.3 M268.75 30.05 v4.3 M288.05 457.95 v-8.5 M288.05 30.05 v8.5 M307.36 457.95 v-4.3 M307.36 30.05 v4.3 M326.66 457.95 v-4.3 M326.66 30.05 v4.3 M345.97 457.95 v-4.3 M345.97 30.05 v4.3 M365.27 457.95 v-4.3 M365.27 30.05 v4.3 M384.57 457.95 v-8.5 M384.57 30.05 v8.5 M403.88 457.95 v-4.3 M403.88 30.05 v4.3 M423.19 457.95 v-4.3 M423.19 30.05 v4.3 M442.49 457.95 v-4.3 M442.49 30.05 v4.3 M461.80 457.95 v-4.3 M461.80 30.05 v4.3 M95.0 51.45 h4.0 M481.1 51.45 h-4.0 M95.0 72.84 h4.0 M481.1 72.84 h-4.0 M95.0 94.23 h4.0 M481.1 94.23 h-4.0 M95.0 115.63 h4.0 M481.1 115.63 h-4.0 M95.0 137.03 h7.8 M481.1 137.03 h-7.8 M95.0 158.42 h4.0 M481.1 158.42 h-4.0 M95.0 179.81 h4.0 M481.1 179.81 h-4.0 M95.0 201.21 h4.0 M481.1 201.21 h-4.0 M95.0 222.61 h4.0 M481.1 222.61 h-4.0 M95.0 244.00 h7.8 M481.1 244.00 h-7.8 M95.0 265.39 h4.0 M481.1 265.39 h-4.0 M95.0 286.79 h4.0 M481.1 286.79 h-4.0 M95.0 308.19 h4.0 M481.1 308.19 h-4.0 M95.0 329.58 h4.0 M481.1 329.58 h-4.0 M95.0 350.98 h7.8 M481.1 350.98 h-7.8 M95.0 372.37 h4.0 M481.1 372.37 h-4.0 M95.0 393.76 h4.0 M481.1 393.76 h-4.0 M95.0 415.16 h4.0 M481.1 415.16 h-4.0 M95.0 436.56 h4.0 M481.1 436.56 h-4.0" fill="none" stroke="#1a1a1a" stroke-width="1.2"/>
<rect x="637.15" y="30.05" width="385.5" height="427.9" fill="none" stroke="#1a1a1a" stroke-width="1.2"/>
<path d="M656.42 457.95 v-4.3 M656.42 30.05 v4.3 M675.70 457.95 v-4.3 M675.70 30.05 v4.3 M694.98 457.95 v-4.3 M694.98 30.05 v4.3 M714.25 457.95 v-4.3 M714.25 30.05 v4.3 M733.52 457.95 v-8.5 M733.52 30.05 v8.5 M752.80 457.95 v-4.3 M752.80 30.05 v4.3 M772.08 457.95 v-4.3 M772.08 30.05 v4.3 M791.35 457.95 v-4.3 M791.35 30.05 v4.3 M810.62 457.95 v-4.3 M810.62 30.05 v4.3 M829.90 457.95 v-8.5 M829.90 30.05 v8.5 M849.17 457.95 v-4.3 M849.17 30.05 v4.3 M868.45 457.95 v-4.3 M868.45 30.05 v4.3 M887.72 457.95 v-4.3 M887.72 30.05 v4.3 M907.00 457.95 v-4.3 M907.00 30.05 v4.3 M926.27 457.95 v-8.5 M926.27 30.05 v8.5 M945.55 457.95 v-4.3 M945.55 30.05 v4.3 M964.83 457.95 v-4.3 M964.83 30.05 v4.3 M984.10 457.95 v-4.3 M984.10 30.05 v4.3 M1003.38 457.95 v-4.3 M1003.38 30.05 v4.3 M637.15 51.45 h4.0 M1022.65 51.45 h-4.0 M637.15 72.84 h4.0 M1022.65 72.84 h-4.0 M637.15 94.23 h4.0 M1022.65 94.23 h-4.0 M637.15 115.63 h4.0 M1022.65 115.63 h-4.0 M637.15 137.03 h7.8 M1022.65 137.03 h-7.8 M637.15 158.42 h4.0 M1022.65 158.42 h-4.0 M637.15 179.81 h4.0 M1022.65 179.81 h-4.0 M637.15 201.21 h4.0 M1022.65 201.21 h-4.0 M637.15 222.61 h4.0 M1022.65 222.61 h-4.0 M637.15 244.00 h7.8 M1022.65 244.00 h-7.8 M637.15 265.39 h4.0 M1022.65 265.39 h-4.0 M637.15 286.79 h4.0 M1022.65 286.79 h-4.0 M637.15 308.19 h4.0 M1022.65 308.19 h-4.0 M637.15 329.58 h4.0 M1022.65 329.58 h-4.0 M637.15 350.98 h7.8 M1022.65 350.98 h-7.8 M637.15 372.37 h4.0 M1022.65 372.37 h-4.0 M637.15 393.76 h4.0 M1022.65 393.76 h-4.0 M637.15 415.16 h4.0 M1022.65 415.16 h-4.0 M637.15 436.56 h4.0 M1022.65 436.56 h-4.0" fill="none" stroke="#1a1a1a" stroke-width="1.2"/>
<text id="il0" x="122.70" y="18.7" font-size="25.6" class="it il" transform="translate(122.70 18.7) scale(1.3 1) translate(-122.70 -18.7)">l</text>
<text id="t0" x="146.09" y="18.70" font-size="25.0" textLength="18.88" lengthAdjust="spacingAndGlyphs" class="tt">=</text>
<text id="t1" transform="translate(0 18.70) scale(1.08 1)" x="165.70 180.22 194.81 209.23 216.72" y="0" font-size="25.0" class="tt">320.5</text>
<text id="t2" x="250.24" y="18.70" font-size="25.0" textLength="19.39" lengthAdjust="spacingAndGlyphs" class="tt">−</text>
<text id="t3" transform="translate(0 18.70) scale(1.08 1)" x="249.96 264.65 279.41 293.95 301.56" y="0" font-size="25.0" class="tt">329.5</text>
<text id="t4" transform="translate(0 18.70) scale(1.0 1)" x="354.61 369.09 384.08 398.71 408.91 423.25 437.97" y="0" font-size="25.0" class="tt">degrees</text>
<text id="t5" x="51.01" y="43.90" font-size="20.6" textLength="10.75" lengthAdjust="spacingAndGlyphs" clip-path="url(#k1)">1</text>
<text id="t6" transform="translate(0 43.90) scale(1.08 1)" x="57.67 70.20" y="0" font-size="20.6">00</text>
<text id="t7" transform="translate(0 145.00) scale(1.08 1)" x="58.19 70.20" y="0" font-size="20.6">50</text>
<text id="t8" x="75.27" y="252.00" font-size="20.6" textLength="13.04" lengthAdjust="spacingAndGlyphs">0</text>
<text id="t9" x="46.91" y="359.20" font-size="20.6" textLength="14.94" lengthAdjust="spacingAndGlyphs">−</text>
<text id="t10" transform="translate(0 359.20) scale(1.08 1)" x="58.00 70.20" y="0" font-size="20.6">50</text>
<text id="t11" x="34.00" y="458.30" font-size="20.6" textLength="15.11" lengthAdjust="spacingAndGlyphs">−</text>
<text id="t12" x="51.63" y="458.30" font-size="20.6" textLength="9.79" lengthAdjust="spacingAndGlyphs" clip-path="url(#k1)">1</text>
<text id="t13" transform="translate(0 458.30) scale(1.08 1)" x="57.67 70.03" y="0" font-size="20.6">00</text>
<text id="t14" x="88.20" y="487.00" font-size="20.6" textLength="13.01" lengthAdjust="spacingAndGlyphs">0</text>
<text id="t15" x="184.60" y="487.00" font-size="20.6" textLength="12.78" lengthAdjust="spacingAndGlyphs">5</text>
<text id="t16" x="275.42" y="487.00" font-size="20.6" textLength="11.08" lengthAdjust="spacingAndGlyphs" clip-path="url(#k1)">1</text>
<text id="t17" x="286.10" y="487.00" font-size="20.6" textLength="13.93" lengthAdjust="spacingAndGlyphs">0</text>
<text id="t18" x="371.56" y="487.00" font-size="20.6" textLength="11.09" lengthAdjust="spacingAndGlyphs" clip-path="url(#k1)">1</text>
<text id="t19" x="382.41" y="487.00" font-size="20.6" textLength="13.66" lengthAdjust="spacingAndGlyphs">5</text>
<text id="t20" transform="translate(0 487.00) scale(1.08 1)" x="432.54 444.74" y="0" font-size="20.6">20</text>
<text id="t21" transform="translate(16.70 0) rotate(-90) scale(1.0 1)" x="-379.83 -365.66 -353.09 -341.41 -336.84 -324.50" y="0" font-size="20.6">Radial</text>
<text id="t22" transform="translate(16.70 0) rotate(-90) scale(1.0 1)" x="-310.72 -298.34 -286.82 -281.84 -269.90 -258.76 -253.19 -246.67" y="0" font-size="20.6">Velocity</text>
<text id="t23" transform="translate(16.70 227.19) rotate(-90)" font-size="20.6" textLength="12.85" lengthAdjust="spacingAndGlyphs">V</text>
<text id="t24" transform="translate(27.30 0) rotate(-90) scale(0.8 1)" x="-267.24 -258.37 -248.70" y="0" font-size="13.4" class="sub">LSR</text>
<text id="t25" transform="translate(16.70 181.93) rotate(-90)" font-size="23.4" textLength="9.76" lengthAdjust="spacingAndGlyphs" class="par">(</text>
<text id="t26" transform="translate(16.70 0) rotate(-90) scale(1.0 1)" x="-172.70 -160.94" y="0" font-size="20.6">km</text>
<text id="t27" transform="translate(16.70 128.06) rotate(-90)" font-size="20.6" textLength="10.89" lengthAdjust="spacingAndGlyphs">s</text>
<text id="t28" transform="translate(16.70 117.92) rotate(-90)" font-size="23.4" textLength="9.51" lengthAdjust="spacingAndGlyphs" class="par">)</text>
<text id="sl0" transform="translate(21.10 141.90) rotate(-90) skewX(-28.5)" font-size="26.5" class="sl">/</text>
<text id="il1" x="665.30" y="18.7" font-size="25.6" class="it il" transform="translate(665.30 18.7) scale(1.3 1) translate(-665.30 -18.7)">l</text>
<text id="t29" x="688.09" y="18.70" font-size="25.0" textLength="18.88" lengthAdjust="spacingAndGlyphs" class="tt">=</text>
<text id="t30" transform="translate(0 18.70) scale(1.08 1)" x="667.56 682.07 696.66 711.08 718.57" y="0" font-size="25.0" class="tt">320.5</text>
<text id="t31" x="792.24" y="18.70" font-size="25.0" textLength="19.39" lengthAdjust="spacingAndGlyphs" class="tt">−</text>
<text id="t32" transform="translate(0 18.70) scale(1.08 1)" x="751.82 766.50 781.26 795.80 803.41" y="0" font-size="25.0" class="tt">329.5</text>
<text id="t33" transform="translate(0 18.70) scale(1.0 1)" x="896.61 911.09 926.08 940.71 950.91 965.25 979.97" y="0" font-size="25.0" class="tt">degrees</text>
<text id="t34" x="593.01" y="43.90" font-size="20.6" textLength="10.75" lengthAdjust="spacingAndGlyphs" clip-path="url(#k1)">1</text>
<text id="t35" transform="translate(0 43.90) scale(1.08 1)" x="559.53 572.05" y="0" font-size="20.6">00</text>
<text id="t36" transform="translate(0 145.00) scale(1.08 1)" x="560.04 572.05" y="0" font-size="20.6">50</text>
<text id="t37" x="617.27" y="252.00" font-size="20.6" textLength="13.04" lengthAdjust="spacingAndGlyphs">0</text>
<text id="t38" x="588.91" y="359.20" font-size="20.6" textLength="14.94" lengthAdjust="spacingAndGlyphs">−</text>
<text id="t39" transform="translate(0 359.20) scale(1.08 1)" x="559.85 572.05" y="0" font-size="20.6">50</text>
<text id="t40" x="576.00" y="458.30" font-size="20.6" textLength="15.11" lengthAdjust="spacingAndGlyphs">−</text>
<text id="t41" x="593.63" y="458.30" font-size="20.6" textLength="9.79" lengthAdjust="spacingAndGlyphs" clip-path="url(#k1)">1</text>
<text id="t42" transform="translate(0 458.30) scale(1.08 1)" x="559.53 571.88" y="0" font-size="20.6">00</text>
<text id="t43" x="630.04" y="487.00" font-size="20.6" textLength="13.10" lengthAdjust="spacingAndGlyphs">0</text>
<text id="t44" x="726.66" y="487.00" font-size="20.6" textLength="12.92" lengthAdjust="spacingAndGlyphs">5</text>
<text id="t45" x="817.26" y="487.00" font-size="20.6" textLength="11.51" lengthAdjust="spacingAndGlyphs" clip-path="url(#k1)">1</text>
<text id="t46" x="828.27" y="487.00" font-size="20.6" textLength="13.83" lengthAdjust="spacingAndGlyphs">0</text>
<text id="t47" x="913.94" y="487.00" font-size="20.6" textLength="10.63" lengthAdjust="spacingAndGlyphs" clip-path="url(#k1)">1</text>
<text id="t48" x="924.71" y="487.00" font-size="20.6" textLength="13.66" lengthAdjust="spacingAndGlyphs">5</text>
<text id="t49" transform="translate(0 487.00) scale(1.08 1)" x="934.67 946.87" y="0" font-size="20.6">20</text>
<text id="t50" transform="translate(558.70 0) rotate(-90) scale(1.0 1)" x="-379.83 -365.66 -353.09 -341.41 -336.84 -324.50" y="0" font-size="20.6">Radial</text>
<text id="t51" transform="translate(558.70 0) rotate(-90) scale(1.0 1)" x="-310.72 -298.34 -286.82 -281.84 -269.90 -258.76 -253.19 -246.67" y="0" font-size="20.6">Velocity</text>
<text id="t52" transform="translate(558.70 227.19) rotate(-90)" font-size="20.6" textLength="12.85" lengthAdjust="spacingAndGlyphs">V</text>
<text id="t53" transform="translate(569.30 0) rotate(-90) scale(0.8 1)" x="-267.24 -258.37 -248.70" y="0" font-size="13.4" class="sub">LSR</text>
<text id="t54" transform="translate(558.70 181.93) rotate(-90)" font-size="23.4" textLength="9.76" lengthAdjust="spacingAndGlyphs" class="par">(</text>
<text id="t55" transform="translate(558.70 0) rotate(-90) scale(1.0 1)" x="-172.70 -160.94" y="0" font-size="20.6">km</text>
<text id="t56" transform="translate(558.70 128.06) rotate(-90)" font-size="20.6" textLength="10.89" lengthAdjust="spacingAndGlyphs">s</text>
<text id="t57" transform="translate(558.70 117.92) rotate(-90)" font-size="23.4" textLength="9.51" lengthAdjust="spacingAndGlyphs" class="par">)</text>
<text id="sl1" transform="translate(563.10 141.90) rotate(-90) skewX(-28.5)" font-size="26.5" class="sl">/</text>
<text id="t58" transform="translate(0 511.80) scale(1.0 1)" x="132.03 146.19 158.55 163.16 175.63 187.43 194.39 206.43 217.35 228.94 241.48 248.33 256.59 261.73" y="0" font-size="20.6">Galactocentric</text>
<text id="t59" transform="translate(0 511.80) scale(1.0 1)" x="282.62 296.73 309.25 320.89 325.88 337.75" y="0" font-size="20.6">Radius</text>
<text id="t60" x="357.36" y="511.80" font-size="23.4" textLength="9.73" lengthAdjust="spacingAndGlyphs" class="par">(</text>
<text id="t61" x="367.72" y="511.80" font-size="21.6" textLength="13.55" lengthAdjust="spacingAndGlyphs" class="it">R</text>
<text id="t62" x="380.37" y="511.80" font-size="20.6" textLength="8.26" lengthAdjust="spacingAndGlyphs">,</text>
<text id="t63" transform="translate(0 511.80) scale(1.0 1)" x="398.41 409.54 421.73" y="0" font-size="20.6">kpc</text>
<text id="t64" x="432.15" y="511.80" font-size="23.4" textLength="9.82" lengthAdjust="spacingAndGlyphs" class="par">)</text>
<text id="t65" transform="translate(0 511.80) scale(1.0 1)" x="668.43 682.96 687.96 699.11 705.54 717.79 729.73 740.54" y="0" font-size="20.6">Distance</text>
<text id="t66" transform="translate(0 511.80) scale(1.0 1)" x="762.78 770.05 778.76 791.97" y="0" font-size="20.6">from</text>
<text id="t67" transform="translate(0 511.80) scale(1.0 1)" x="819.62 826.67 838.54" y="0" font-size="20.6">the</text>
<text id="t68" transform="translate(0 511.80) scale(1.0 1)" x="859.83 873.07 884.81" y="0" font-size="20.6">Sun</text>
<text id="t69" x="905.72" y="511.80" font-size="23.4" textLength="9.74" lengthAdjust="spacingAndGlyphs" class="par">(</text>
<text id="t70" x="917.19" y="511.80" font-size="21.6" textLength="12.11" lengthAdjust="spacingAndGlyphs" class="it">D</text>
<text id="t71" x="928.83" y="511.80" font-size="20.6" textLength="7.87" lengthAdjust="spacingAndGlyphs">,</text>
<text id="t72" transform="translate(0 511.80) scale(1.0 1)" x="946.77 958.03 970.35" y="0" font-size="20.6">kpc</text>
<text id="t73" x="980.52" y="511.80" font-size="23.4" textLength="10.19" lengthAdjust="spacingAndGlyphs" class="par">)</text>
<text id="t74" transform="translate(0 58.70) scale(1.08 1)" x="389.65 400.08 410.56 420.93 426.30" y="0" font-size="18.0" class="sm">320.5</text>
<text id="t75" transform="translate(0 135.40) scale(1.08 1)" x="389.65 400.08 410.56 420.93 426.30" y="0" font-size="18.0" class="sm">329.5</text>
<text id="t76" transform="translate(0 394.10) scale(1.08 1)" x="123.24 133.86 144.54 155.04 160.56" y="0" font-size="18.0" class="sm">329.5</text>
<text id="t77" transform="translate(0 394.10) scale(1.08 1)" x="191.70 202.32 212.98 223.49 229.00" y="0" font-size="18.0" class="sm">320.5</text>
<text id="t78" transform="translate(0 114.80) scale(1.08 1)" x="893.64 904.18 914.77 925.22 930.67" y="0" font-size="18.0" class="sm">320.5</text>
<text id="t79" transform="translate(0 210.40) scale(1.08 1)" x="893.64 904.18 914.77 925.22 930.67" y="0" font-size="18.0" class="sm">329.5</text>
</svg>
</body></html>
